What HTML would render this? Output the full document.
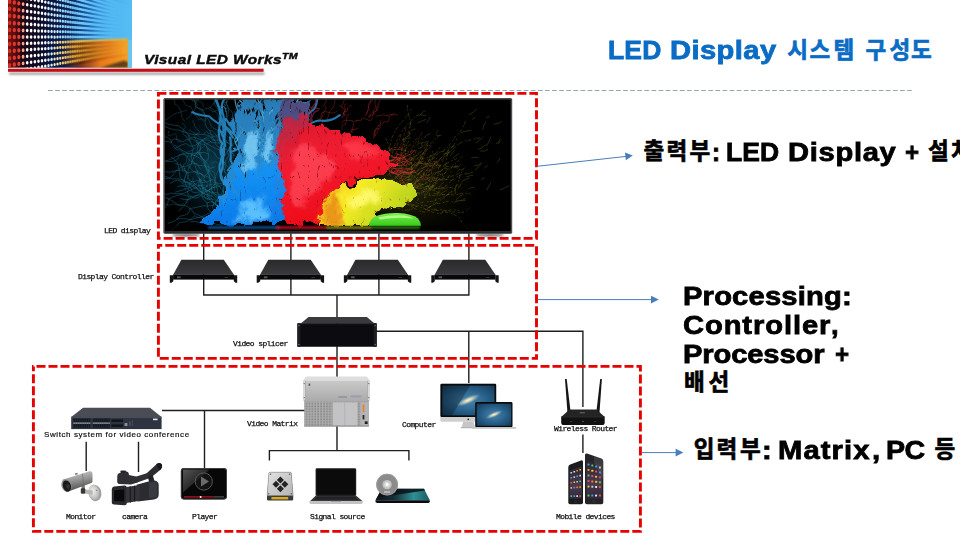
<!DOCTYPE html>
<html lang="ko"><head><meta charset="utf-8"><title>LED Display 시스템 구성도</title>
<style>
html,body{margin:0;padding:0;background:#fff}
#slide{position:absolute;left:0;top:0;width:960px;height:540px;overflow:hidden;background:#fff;font-family:"Liberation Sans",sans-serif}
#art{position:absolute;left:0;top:0}
.t{position:absolute;white-space:pre;line-height:1;transform-origin:0 0;margin:0;will-change:transform}
.big{font-weight:bold;font-size:26.5px;color:#000;-webkit-text-stroke:0.8px currentColor}
.hgt{font-family:"Liberation Sans","Noto Sans CJK KR",sans-serif;font-weight:bold;font-size:22.5px;stroke-width:0.7;stroke-linejoin:miter}
.hk{font-weight:bold;font-size:23px;opacity:0}
.lbl{font-family:"Liberation Mono",monospace;font-size:8px;letter-spacing:-0.6px;color:#111;-webkit-text-stroke:0.25px #111;will-change:transform}

</style></head><body>
<div id="slide">
<svg id="art" width="960" height="540" viewBox="0 0 960 540">
<defs>
<filter id="blur1" x="-5%" y="-200%" width="110%" height="500%"><feGaussianBlur stdDeviation="1.2"/></filter>
<linearGradient id="gCtrlTop" x1="0" y1="0" x2="0" y2="1"><stop offset="0" stop-color="#2a2a2c"/><stop offset="1" stop-color="#3a3a3d"/></linearGradient>
<linearGradient id="gSilver" x1="0" y1="0" x2="0" y2="1"><stop offset="0" stop-color="#cacaca"/><stop offset=".5" stop-color="#bababa"/><stop offset="1" stop-color="#acacac"/></linearGradient>
<pattern id="pGrid" x="305.5" y="402.6" width="2.9" height="2.6" patternUnits="userSpaceOnUse"><rect width="2.9" height="2.6" fill="#aeaeae"/><rect x=".3" y=".4" width="1.6" height="1.6" fill="#858585"/></pattern>
<g id="ctrl">
<path d="M181.4 259.8H223.8L234 274.8H173.1Z" fill="url(#gCtrlTop)"/>
<rect x="173.1" y="274.6" width="60.9" height="5" fill="#09090b"/>
<path d="M169.8 275.2H173.3V281.2L171.4 282.8H169.8ZM233.8 275.2H237.2V282.8H235.6L233.8 281.2Z" fill="#141416"/>
<rect x="177" y="276.4" width="3.6" height="1.8" fill="#5a5a5e"/>
<rect x="224.5" y="277" width="3.5" height=".8" fill="#3c3c40"/>
</g>
<linearGradient id="gCam" x1=".35" y1="0" x2=".62" y2="1"><stop offset="0" stop-color="#c9c9c9"/><stop offset=".4" stop-color="#9a9a9a"/><stop offset=".75" stop-color="#6a6a6a"/><stop offset="1" stop-color="#4e4e4e"/></linearGradient>
<radialGradient id="gBase" cx=".4" cy=".4" r=".7"><stop offset="0" stop-color="#f4f4f4"/><stop offset="1" stop-color="#a9a9a9"/></radialGradient>
<linearGradient id="gGloss" x1="0" y1="0" x2="1" y2="1"><stop offset="0" stop-color="#6a6a6a"/><stop offset=".55" stop-color="#2c2c2c"/><stop offset="1" stop-color="#1a1a1a"/></linearGradient>
<linearGradient id="gHdd" x1="0" y1="0" x2="1" y2="1"><stop offset="0" stop-color="#e2e2e2"/><stop offset="1" stop-color="#b4b4b4"/></linearGradient>
<linearGradient id="gTeal" x1="0" y1="0" x2="1" y2="0"><stop offset="0" stop-color="#0d1519"/><stop offset=".35" stop-color="#153038"/><stop offset=".7" stop-color="#2f9094"/><stop offset="1" stop-color="#1c5a60"/></linearGradient>
<radialGradient id="gScr" cx=".5" cy=".5" r=".75"><stop offset="0" stop-color="#4a86b0"/><stop offset=".55" stop-color="#235a82"/><stop offset="1" stop-color="#123350"/></radialGradient>
<radialGradient id="gGal" cx=".5" cy=".5" r=".5"><stop offset="0" stop-color="#fff8d8"/><stop offset=".35" stop-color="#e8dfae" stop-opacity=".85"/><stop offset="1" stop-color="#9cc0d8" stop-opacity="0"/></radialGradient>
<linearGradient id="gPh" x1="0" y1="0" x2="0" y2="1"><stop offset="0" stop-color="#2a2630"/><stop offset=".6" stop-color="#4b3a4e"/><stop offset="1" stop-color="#30283a"/></linearGradient>
<clipPath id="clipScr"><rect x="164.9" y="99.5" width="345.8" height="131.7"/></clipPath>
<filter id="blurM" x="-20%" y="-20%" width="140%" height="140%"><feGaussianBlur stdDeviation="2.2"/></filter>
<filter id="blurXS" x="-10%" y="-50%" width="120%" height="200%"><feGaussianBlur stdDeviation=".6"/></filter>
<filter id="blurS" x="-10%" y="-100%" width="120%" height="300%"><feGaussianBlur stdDeviation="1"/></filter>
<filter id="liquid" x="-5%" y="-5%" width="110%" height="110%" color-interpolation-filters="sRGB"><feTurbulence type="fractalNoise" baseFrequency=".075" numOctaves="3" seed="4" result="n"/><feDisplacementMap in="SourceGraphic" in2="n" scale="16" xChannelSelector="R" yChannelSelector="G" result="d"/><feTurbulence type="turbulence" baseFrequency=".11 .045" numOctaves="3" seed="3" result="t"/><feColorMatrix in="t" type="matrix" values="0 0 0 0 1 0 0 0 0 1 0 0 0 0 1 3.2 0 0 0 .22" result="tm"/><feComposite in="d" in2="tm" operator="in" result="m"/><feComponentTransfer in="m"><feFuncA type="linear" slope="4" intercept="-1.05"/></feComponentTransfer></filter>
<filter id="liquidU" x="-5%" y="-5%" width="110%" height="110%" color-interpolation-filters="sRGB"><feTurbulence type="fractalNoise" baseFrequency=".075" numOctaves="3" seed="4" result="n"/><feDisplacementMap in="SourceGraphic" in2="n" scale="16" xChannelSelector="R" yChannelSelector="G"/></filter>
<filter id="liquidS" x="-10%" y="-10%" width="120%" height="120%"><feTurbulence type="fractalNoise" baseFrequency=".12" numOctaves="2" seed="9" result="n"/><feDisplacementMap in="SourceGraphic" in2="n" scale="8" xChannelSelector="R" yChannelSelector="G"/><feGaussianBlur stdDeviation=".5"/></filter>
<radialGradient id="hzTeal"><stop offset="0" stop-color="#146a88" stop-opacity=".55"/><stop offset="1" stop-color="#0a3a50" stop-opacity="0"/></radialGradient>
<radialGradient id="hzOlive" cx=".3" cy=".65"><stop offset="0" stop-color="#5a5614" stop-opacity=".5"/><stop offset="1" stop-color="#2a2808" stop-opacity="0"/></radialGradient>
<linearGradient id="gBlue" x1="0" y1="0" x2="0" y2="1"><stop offset="0" stop-color="#2a7ab4" stop-opacity=".5"/><stop offset=".5" stop-color="#2888cc" stop-opacity=".6"/><stop offset="1" stop-color="#1e8ce0" stop-opacity=".85"/></linearGradient>
<linearGradient id="gBlueLow" x1="0" y1="0" x2="0" y2="1"><stop offset="0" stop-color="#2b94dc" stop-opacity=".7"/><stop offset=".35" stop-color="#1290f4" stop-opacity=".92"/><stop offset="1" stop-color="#0a7ae8"/></linearGradient>
<linearGradient id="gRed" x1="0" y1="0" x2=".25" y2="1"><stop offset="0" stop-color="#d8182e" stop-opacity=".62"/><stop offset=".45" stop-color="#f21c30" stop-opacity=".88"/><stop offset="1" stop-color="#ee0c1a"/></linearGradient>
<linearGradient id="gYellow" x1="0" y1="0" x2="1" y2=".4"><stop offset="0" stop-color="#f0b41c"/><stop offset=".4" stop-color="#f8ec24"/><stop offset="1" stop-color="#b4d21c"/></linearGradient>
<linearGradient id="gGreen" x1="0" y1="0" x2="0" y2="1"><stop offset="0" stop-color="#7af04a"/><stop offset="1" stop-color="#38c81c"/></linearGradient>
<clipPath id="clipLogo"><rect x="8" y="0" width="124" height="67.8"/></clipPath>
<filter id="blurL" x="-10%" y="-30%" width="120%" height="160%"><feGaussianBlur stdDeviation=".9"/></filter>
<linearGradient id="lgBase" gradientUnits="userSpaceOnUse" x1="8" y1="0" x2="132" y2="0"><stop offset="0" stop-color="#3a0a0e"/><stop offset=".12" stop-color="#1c0714"/><stop offset=".26" stop-color="#0b0b26"/><stop offset=".45" stop-color="#0a2258"/><stop offset=".6" stop-color="#1c66b6"/><stop offset=".72" stop-color="#3ca4ea"/><stop offset="1" stop-color="#56bdf4"/></linearGradient>
<linearGradient id="lgStreak" gradientUnits="userSpaceOnUse" x1="58" y1="0" x2="133" y2="0"><stop offset="0" stop-color="#7fd4fb" stop-opacity="0"/><stop offset=".3" stop-color="#74cdf8" stop-opacity=".9"/><stop offset=".6" stop-color="#5cc0f6" stop-opacity=".8"/><stop offset="1" stop-color="#58bdf4" stop-opacity=".3"/></linearGradient>
<linearGradient id="lgGap" gradientUnits="userSpaceOnUse" x1="40" y1="0" x2="112" y2="0"><stop offset="0" stop-color="#061238" stop-opacity="0"/><stop offset=".4" stop-color="#061c50" stop-opacity=".95"/><stop offset=".7" stop-color="#1a5cae" stop-opacity=".7"/><stop offset="1" stop-color="#3a98e0" stop-opacity="0"/></linearGradient>
<linearGradient id="lgOrange" gradientUnits="userSpaceOnUse" x1="60" y1="0" x2="128" y2="0"><stop offset="0" stop-color="#3a1206" stop-opacity="0"/><stop offset=".3" stop-color="#8a2c0c" stop-opacity=".9"/><stop offset=".6" stop-color="#e87a1a"/><stop offset="1" stop-color="#f6a024"/></linearGradient>
<linearGradient id="lgOrS" gradientUnits="userSpaceOnUse" x1="62" y1="0" x2="128" y2="0"><stop offset="0" stop-color="#f8d040" stop-opacity="0"/><stop offset=".25" stop-color="#f6c030" stop-opacity=".9"/><stop offset="1" stop-color="#f8b428"/></linearGradient>
<linearGradient id="lgOrD" gradientUnits="userSpaceOnUse" x1="62" y1="0" x2="128" y2="0"><stop offset="0" stop-color="#1a0804" stop-opacity=".2"/><stop offset=".3" stop-color="#3a0e06" stop-opacity=".95"/><stop offset=".7" stop-color="#c03c10" stop-opacity=".8"/><stop offset="1" stop-color="#e06818" stop-opacity=".3"/></linearGradient>
<linearGradient id="lgWarm" gradientUnits="userSpaceOnUse" x1="24" y1="70" x2="56" y2="46"><stop offset="0" stop-color="#f8c020" stop-opacity=".0"/><stop offset=".6" stop-color="#f8a020" stop-opacity=".15"/><stop offset="1" stop-color="#f88020" stop-opacity=".45"/></linearGradient>
<linearGradient id="lgRedGlow" gradientUnits="userSpaceOnUse" x1="8" y1="0" x2="22" y2="0"><stop offset="0" stop-color="#b01810" stop-opacity=".55"/><stop offset="1" stop-color="#b01810" stop-opacity="0"/></linearGradient>

</defs>
<!-- logo picture: LED dot wall in perspective -->
<g id="logopic" clip-path="url(#clipLogo)">
<rect x="8" y="0" width="124" height="67.8" fill="url(#lgBase)"/>
<path d="M58 -16.9L133 8.9M58 -11.5L133 11.7M58 -6.1L133 14.5M58 -0.7L133 17.3M58 4.7L133 20.1M58 10.1L133 22.9M58 15.5L133 25.7M58 20.8L133 28.6M58 26.2L133 31.4M58 31.6L133 34.2M58 37L133 37M58 42.4L133 39.8M58 47.8L133 42.6M58 53.2L133 45.4M58 58.5L133 48.3M58 63.9L133 51.1" stroke="url(#lgStreak)" stroke-width="2.9" fill="none"/>
<path d="M40 -20L112 3.4M40 -14L112 7M40 -8L112 10.5M40 -2L112 14M40 4L112 17.6M40 10L112 21.1M40 16L112 24.6M40 22L112 28.2M40 28L112 31.7M40 34L112 35.2M40 40L112 38.8M40 46L112 42.3M40 52L112 45.8M40 58L112 49.4M40 64L112 52.9M40 70L112 56.4" stroke="url(#lgGap)" stroke-width="2" fill="none"/>
<path d="M60 42.6L132 40.4V67.8H60Z" fill="url(#lgOrange)"/>
<path d="M62 42.2L128 40M62 47.5L128 43M62 52.7L128 46M62 58L128 48.9M62 63.2L128 51.9" stroke="url(#lgOrS)" stroke-width="2.8" fill="none" filter="url(#blurL)"/>
<path d="M62 44.9L128 41.5M62 50.1L128 44.5M62 55.4L128 47.4M62 60.6L128 50.4M62 65.9L128 53.4" stroke="url(#lgOrD)" stroke-width="1.8" fill="none" filter="url(#blurL)"/>
<path d="M100 67.8L124 60.5L128 62V67.8Z" fill="#3a2a14" opacity=".8" filter="url(#blurL)"/>
<rect x="127.8" y="40" width="4.4" height="28" fill="#6cc4ea"/>
<path d="M9.6 -24.8V54.5" transform="scale(1 1.35)" stroke="#f0463a" stroke-width="3.3" stroke-dasharray="0 5.22" stroke-linecap="round"/>
<path d="M14.3 -23.6V53.9" transform="scale(1 1.35)" stroke="#f0463a" stroke-width="3.3" stroke-dasharray="0 5.10" stroke-linecap="round"/>
<path d="M18.8 -22.4V53.3" transform="scale(1 1.35)" stroke="#f0463a" stroke-width="3.2" stroke-dasharray="0 4.98" stroke-linecap="round"/>
<path d="M23.1 -21.4V52.8" transform="scale(1 1.35)" stroke="#f7a58e" stroke-width="2.8" stroke-dasharray="0 4.88" stroke-linecap="round"/>
<path d="M27.2 -20.3V52.2" transform="scale(1 1.35)" stroke="#ffffff" stroke-width="2.7" stroke-dasharray="0 4.77" stroke-linecap="round"/>
<path d="M31.1 -19.3V51.7" transform="scale(1 1.35)" stroke="#ffffff" stroke-width="2.7" stroke-dasharray="0 4.67" stroke-linecap="round"/>
<path d="M34.9 -18.4V51.2" transform="scale(1 1.35)" stroke="#ffffff" stroke-width="2.6" stroke-dasharray="0 4.58" stroke-linecap="round"/>
<path d="M38.5 -17.4V50.7" transform="scale(1 1.35)" stroke="#ffffff" stroke-width="2.6" stroke-dasharray="0 4.48" stroke-linecap="round"/>
<path d="M42 -16.6V50.3" transform="scale(1 1.35)" stroke="#ffffff" stroke-width="2.5" stroke-dasharray="0 4.40" stroke-linecap="round"/>
<path d="M45.3 -15.7V49.8" transform="scale(1 1.35)" stroke="#ffffff" stroke-width="2.5" stroke-dasharray="0 4.31" stroke-linecap="round"/>
<path d="M48.5 -14.9V49.4" transform="scale(1 1.35)" stroke="#d4efff" stroke-width="2.4" stroke-dasharray="0 4.23" stroke-linecap="round"/>
<path d="M51.6 -14.1V49" transform="scale(1 1.35)" stroke="#d4efff" stroke-width="2.4" stroke-dasharray="0 4.15" stroke-linecap="round"/>
<path d="M54.6 -13.3V28.2" transform="scale(1 1.35)" stroke="#d4efff" stroke-width="2.3" stroke-dasharray="0 4.08" stroke-linecap="round"/>
<path d="M54.6 31.5V48.6" transform="scale(1 1.35)" stroke="#ffe9b0" stroke-width="2.3" stroke-dasharray="0 4.08" stroke-linecap="round"/>
<path d="M57.5 -12.6V28.2" transform="scale(1 1.35)" stroke="#d4efff" stroke-width="2.3" stroke-dasharray="0 4.00" stroke-linecap="round"/>
<path d="M57.5 31.4V48.2" transform="scale(1 1.35)" stroke="#ffe9b0" stroke-width="2.3" stroke-dasharray="0 4.00" stroke-linecap="round"/>
<path d="M60.2 -11.9V28.2" transform="scale(1 1.35)" stroke="#9fe0ff" stroke-width="2.2" stroke-dasharray="0 3.93" stroke-linecap="round"/>
<path d="M60.2 31.3V47.9" transform="scale(1 1.35)" stroke="#ffd070" stroke-width="2.2" stroke-dasharray="0 3.93" stroke-linecap="round"/>
<path d="M62.9 -11.2V28.2" transform="scale(1 1.35)" stroke="#9fe0ff" stroke-width="2.2" stroke-dasharray="0 3.86" stroke-linecap="round" opacity="0.97"/>
<path d="M62.9 31.3V47.5" transform="scale(1 1.35)" stroke="#ffd070" stroke-width="2.2" stroke-dasharray="0 3.86" stroke-linecap="round" opacity="0.97"/>
<path d="M65.5 -10.6V28.2" transform="scale(1 1.35)" stroke="#9fe0ff" stroke-width="2.2" stroke-dasharray="0 3.80" stroke-linecap="round" opacity="0.88"/>
<path d="M65.5 31.2V47.2" transform="scale(1 1.35)" stroke="#ffd070" stroke-width="2.2" stroke-dasharray="0 3.80" stroke-linecap="round" opacity="0.88"/>
<path d="M68 -9.9V28.2" transform="scale(1 1.35)" stroke="#9fe0ff" stroke-width="2.1" stroke-dasharray="0 3.73" stroke-linecap="round" opacity="0.80"/>
<path d="M68 31.1V46.8" transform="scale(1 1.35)" stroke="#fbb838" stroke-width="2.1" stroke-dasharray="0 3.73" stroke-linecap="round" opacity="0.80"/>
<path d="M70.4 -9.3V28.1" transform="scale(1 1.35)" stroke="#9fe0ff" stroke-width="2.1" stroke-dasharray="0 3.67" stroke-linecap="round" opacity="0.72"/>
<path d="M70.4 31.1V46.5" transform="scale(1 1.35)" stroke="#fbb838" stroke-width="2.1" stroke-dasharray="0 3.67" stroke-linecap="round" opacity="0.72"/>
<path d="M72.8 -8.7V28.1" transform="scale(1 1.35)" stroke="#7fd4fb" stroke-width="2.1" stroke-dasharray="0 3.61" stroke-linecap="round" opacity="0.64"/>
<path d="M72.8 31V46.2" transform="scale(1 1.35)" stroke="#fbb838" stroke-width="2.1" stroke-dasharray="0 3.61" stroke-linecap="round" opacity="0.64"/>
<path d="M75 -8.2V28.1" transform="scale(1 1.35)" stroke="#7fd4fb" stroke-width="2" stroke-dasharray="0 3.56" stroke-linecap="round" opacity="0.57"/>
<path d="M75 31V45.9" transform="scale(1 1.35)" stroke="#fbb838" stroke-width="2" stroke-dasharray="0 3.56" stroke-linecap="round" opacity="0.57"/>
<path d="M77.2 -7.6V28.1" transform="scale(1 1.35)" stroke="#7fd4fb" stroke-width="2" stroke-dasharray="0 3.50" stroke-linecap="round" opacity="0.49"/>
<path d="M77.2 30.9V45.6" transform="scale(1 1.35)" stroke="#fbb838" stroke-width="2" stroke-dasharray="0 3.50" stroke-linecap="round" opacity="0.49"/>
<path d="M79.4 -7.1V28.1" transform="scale(1 1.35)" stroke="#7fd4fb" stroke-width="2" stroke-dasharray="0 3.45" stroke-linecap="round" opacity="0.42"/>
<path d="M79.4 30.9V45.3" transform="scale(1 1.35)" stroke="#fbb838" stroke-width="2" stroke-dasharray="0 3.45" stroke-linecap="round" opacity="0.42"/>
<path d="M81.4 -6.5V28.1" transform="scale(1 1.35)" stroke="#7fd4fb" stroke-width="1.9" stroke-dasharray="0 3.39" stroke-linecap="round" opacity="0.35"/>
<path d="M81.4 30.8V45.1" transform="scale(1 1.35)" stroke="#fbb838" stroke-width="1.9" stroke-dasharray="0 3.39" stroke-linecap="round" opacity="0.35"/>
<path d="M83.4 -6V28.1" transform="scale(1 1.35)" stroke="#7fd4fb" stroke-width="1.9" stroke-dasharray="0 3.34" stroke-linecap="round" opacity="0.29"/>
<path d="M83.4 30.8V44.8" transform="scale(1 1.35)" stroke="#fbb838" stroke-width="1.9" stroke-dasharray="0 3.34" stroke-linecap="round" opacity="0.29"/>
<path d="M85.4 -5.5V28.1" transform="scale(1 1.35)" stroke="#7fd4fb" stroke-width="1.9" stroke-dasharray="0 3.29" stroke-linecap="round" opacity="0.22"/>
<path d="M85.4 30.7V44.5" transform="scale(1 1.35)" stroke="#fbb838" stroke-width="1.9" stroke-dasharray="0 3.29" stroke-linecap="round" opacity="0.22"/>
<path d="M87.2 -5.1V28.1" transform="scale(1 1.35)" stroke="#7fd4fb" stroke-width="1.9" stroke-dasharray="0 3.25" stroke-linecap="round" opacity="0.16"/>
<path d="M87.2 30.7V44.3" transform="scale(1 1.35)" stroke="#fbb838" stroke-width="1.9" stroke-dasharray="0 3.25" stroke-linecap="round" opacity="0.16"/>
<path d="M89.1 -4.6V28" transform="scale(1 1.35)" stroke="#7fd4fb" stroke-width="1.8" stroke-dasharray="0 3.20" stroke-linecap="round" opacity="0.10"/>
<path d="M89.1 30.6V44" transform="scale(1 1.35)" stroke="#fbb838" stroke-width="1.8" stroke-dasharray="0 3.20" stroke-linecap="round" opacity="0.10"/>
<path d="M90.8 -4.1V28" transform="scale(1 1.35)" stroke="#7fd4fb" stroke-width="1.8" stroke-dasharray="0 3.15" stroke-linecap="round" opacity="0.04"/>
<path d="M90.8 30.6V43.8" transform="scale(1 1.35)" stroke="#fbb838" stroke-width="1.8" stroke-dasharray="0 3.15" stroke-linecap="round" opacity="0.04"/>
<rect x="8" y="0" width="14" height="67.8" fill="url(#lgRedGlow)"/>
</g>
<!-- red rule with soft shadow -->
<rect x="9" y="72.4" width="255.5" height="2.4" fill="#000" opacity=".38" filter="url(#blur1)"/>
<rect x="8" y="68.7" width="255.6" height="3.1" fill="#c00f16"/>

<!-- thin dashed guide line under header -->
<line x1="48" y1="90.5" x2="913.5" y2="90.5" stroke="#98a6b2" stroke-width="1" stroke-dasharray="4.7 2.4"/>
<!-- connector lines -->
<g fill="none" stroke="#1e1e1e" stroke-width="1.4">
<path d="M203.7 233V295M290.9 233V295M378.9 233V295M468.9 233V295M203.1 295H469.5"/>
<path d="M337 295V378M376 331.2H583.6M468.8 331.2V383M582.9 331.2V407M582.9 434.5V453"/>
<path d="M162 410.5H305M204.5 410.5V469M86.2 441.7V471M138.5 441.7V472"/>
<path d="M337 426V450.6M269.4 460.5V450.6H408.9V460.5"/>
</g>
<!-- red dashed group boxes -->
<g fill="none" stroke="#e60000" stroke-width="2.9" stroke-dasharray="9 3">
<rect x="158.4" y="93.4" width="378.1" height="145" stroke-dashoffset="1"/>
<rect x="158.4" y="245.4" width="378.1" height="113" stroke-dashoffset="5.15"/>
<rect x="33.4" y="366.4" width="607" height="165" stroke-dashoffset="8.9"/>
</g>
<!-- blue callout arrows -->
<g stroke="#4a7ebb" stroke-width="1" fill="#4a7ebb">
<line x1="537" y1="166.3" x2="627" y2="156.3"/><path d="M632.8 155.6L625 152.4L625.8 160.2Z" stroke="none"/>
<line x1="538" y1="299.6" x2="652" y2="299.6"/><path d="M658.8 299.6L651 295.8V303.4Z" stroke="none"/>
<line x1="642" y1="452.6" x2="677" y2="452.6"/><path d="M683.4 452.6L675.6 448.8V456.4Z" stroke="none"/>
</g>

<!-- LED display: TV frame + paint splash artwork -->
<g id="leddisplay">
<ellipse cx="186" cy="235.2" rx="14" ry="1.6" fill="#000" opacity=".55" filter="url(#blurS)"/><ellipse cx="490" cy="235.2" rx="14" ry="1.6" fill="#000" opacity=".55" filter="url(#blurS)"/>
<rect x="163.4" y="98" width="348.8" height="135.8" rx="1.6" fill="#444446"/>
<rect x="164.9" y="99.5" width="345.8" height="131.7" fill="#000"/>
<g clip-path="url(#clipScr)">
<ellipse cx="212" cy="165" rx="50" ry="66" fill="url(#hzTeal)"/>
<ellipse cx="430" cy="175" rx="80" ry="52" fill="url(#hzOlive)"/>
<path d="M218.1 185.9Q213.3 181.8 206 186.6Q201.8 191.1 194 187.4Q185.5 179.7 182.6 183.5Q179.3 176.9 170.5 183.2M239.3 219.1Q227.3 214.8 228.9 209.8Q221.8 199.8 223.4 197Q223.3 189.2 224.2 183Q222.5 178.3 220.3 169.6M220 194.3Q222.2 197.9 210.5 192Q203.1 188.1 200.8 191.7Q190.1 194.2 191.4 189.3Q191.6 186.1 182.2 186.1M238.3 209.5Q235.8 212.3 234.2 201.6Q226.5 199.4 230.8 193.4Q224.8 184.2 225.3 186.4Q229.7 186.2 221.1 178.6M204.7 160.2Q198.4 158 201.1 154.2Q195.1 154.4 197.8 148.1Q199.3 139.2 196.8 141.1Q192.6 134.4 196.5 134.1M238.8 205.9Q234.7 202.6 233.6 189.4Q224.2 188.4 226.1 173.8Q221.3 169.1 223.2 156.7Q220.4 142.1 223.2 139.4M203.6 187.8Q200.5 187.8 198.7 174.9Q197.4 173.6 194 162Q188.9 160.8 193.5 148.2Q187.6 137.4 188.7 135.3M229.6 217.1Q224.6 209.6 216.7 204.3Q206.8 202.4 209.7 187.6Q211.3 175.2 207.1 169.7Q204.4 158.7 199 153.4M207 199.1Q210.8 196.3 204.7 190.3Q210.3 181.6 204.3 181.2Q202.9 176.3 208.1 172.9Q207 168.1 214.9 166.9M222.9 150.8Q217.1 150 207 143.8Q193.7 134.5 190.5 138.2Q190.2 134.7 178.4 125.7Q163.6 124.6 162.1 119.7M219.3 199.9Q218.1 194 215.5 181.5Q213.6 176.6 205.1 166Q203.7 157.9 190.7 154Q188.1 154.6 174.3 144.9M216.7 204.8Q208.4 206.5 203.3 205.8Q190.8 208.9 190.1 208.1Q190.1 215.4 179.5 216.3Q177.1 221 168.1 223.3M217.6 208.7Q220.8 200.9 221.2 193.5Q227.7 186.6 228.7 179.8Q237.5 169.1 234.6 165.3Q237.7 162.7 246.4 155.2M208.1 153.9Q206.3 151.2 193.6 153.3Q182.2 153.3 179.2 155.1Q178.4 163.4 166 161.1Q160.3 160.7 152.2 165.5M205.4 180.7Q203.4 178.5 188.7 182.6Q179.8 177.6 172.2 179Q163.6 176.8 157.4 171.1Q147.4 171.8 142.5 163M239.3 177.1Q231.1 177.2 235.7 171.5Q231 173 231.7 166.2Q226 162.3 230.5 159.7Q236.1 152.8 232.4 153.3M205.6 143.8Q202.2 146.3 194.4 140.2Q191.1 136.8 182.7 141.8Q172.3 135.6 170.9 143.1Q168 139.1 159.1 144.1M210.9 168.4Q208.3 165.5 198.4 165.6Q197.8 160.3 185.7 166.5Q183.2 164.3 174.5 172.5Q170.5 181 163 178.1M215.1 186.6Q207.1 192 200.2 193.1Q195.3 198.5 184.1 195Q179.3 193.1 168.4 199.2Q168.7 210.8 155.5 209M221.5 204.8Q212.1 194 207 194.8Q200.7 193.2 193.1 184Q179.6 182.8 179.3 173Q179.5 160.5 171.3 157.3M213.4 204.6Q215.2 205.5 210.7 197Q214.9 193.3 206.7 189.9Q197.6 183.7 200 185.3Q193.7 186.2 193.3 180.8M225.6 182.9Q217.5 185.9 212.8 179.3Q202.1 185.1 199.6 181Q194.4 185.6 188.6 188.2Q182.7 190.2 175.8 192M224.2 142.3Q222.1 143.3 211.5 142.6Q207.8 136.7 198.8 142.8Q191.3 149.6 186.1 143.5Q177.2 146 174.8 149.3M205.1 175.6Q193.9 169.9 187.8 172.9Q185 167.4 170.3 172.2Q155.1 169.9 153.3 176.3Q147.1 173.5 135.8 175.7M214.2 190.8Q215.2 179.7 215.9 175.5Q219.3 167.6 221.9 161.4Q224.5 155.1 229.6 148.1Q231.3 144.9 241.2 138M225.5 183.4Q215.1 188.7 212.2 187.2Q212 188.5 200.5 194.8Q200.1 193.6 187.7 200.2Q188.8 200.5 179 211M209.6 199.6Q205.7 201.2 204 194.6Q200.9 193.9 200.6 188Q196.4 186.8 200.5 180.5Q205.6 171.7 197.6 173.7M220.2 202.2Q209.9 190.6 211.7 190.1Q211.2 183 209.2 175.5Q202.6 163.8 205.8 161Q211 160.5 206.7 146.2M237.1 147.8Q239.4 136.4 234.3 129.9Q233.4 119.9 232.1 111.9Q223.3 105.8 228.2 94.2Q218.9 85.8 218.6 78.7M229.6 173.2Q221.1 174.9 226.2 165.7Q226.3 167.6 220.7 159.4Q216.2 158 214.5 153.9Q218.1 155.4 208.2 148.4M210.3 214.7Q201 220.7 194.4 215.7Q189.8 222.7 179.9 222.3Q172.4 230.5 167.5 232.5Q157.6 234.2 152.1 236.7M200.4 169.2Q201.2 167 189.6 160.3Q187.1 156 180.2 149.8Q173.9 151.6 170.6 139.5Q167.9 138.8 159.6 130.8M239.2 141.9Q231.9 130.6 227.4 131.9Q221.4 119.8 219 118.9Q222.2 112.2 214 104.2Q218 97.9 208.9 89.6M239.8 192.3Q239.8 185.8 232.6 192Q224.5 192.9 225.9 194.6Q222.2 196.4 218.7 195Q221.6 192.5 212 192.3M221.1 189Q218.2 182.7 213.7 182.5Q206.6 173.3 205.2 177.7Q195.2 169.5 198.1 170.9Q192.3 174 189.5 166.1M229.9 144.1Q226.9 140.8 212.5 139.5Q210.4 133.3 195.2 134.4Q192.5 135.2 177.7 129.8Q175.8 131.6 160.4 124.6M224.1 149.4Q213.5 145.8 215.3 141.4Q211.8 138.4 209.9 130.7Q204.2 126.4 205.1 119.8Q206.9 114.6 201 108.6M239.9 218.1Q241.7 219.3 232.5 212.6Q226.5 207.1 224.5 208Q221.1 207.7 215.8 204.9Q214.8 199.6 206.8 203M210 220.3Q195.9 213.7 194.2 213.4Q188.3 203.8 179 205.3Q165.2 195.8 163.4 197.8Q155.8 197.3 146.8 193.1M214.9 179.2Q216.4 169.2 208.3 171Q211.1 167.7 205.2 161Q198.3 155.4 199.5 152.1Q202.1 145.2 196.1 142.1M226.1 221.1Q227 215.9 216.2 212.6Q206.1 213 207.3 203Q199.4 197.6 203.1 190.5Q203.7 181.5 199.1 178.1M231 146.2Q228 142.1 230.6 131.7Q225.9 119.6 227.4 117.5Q229.9 108.4 226.2 103.1Q231.2 97.1 230.3 89.2M236.7 217.1Q228.5 216.4 225.6 220.8Q226 227.7 214.2 223.5Q206.4 221.5 202.5 223.3Q195.2 220.8 190.9 221.5M207.8 186.2Q202.3 182.8 195 188.4Q194.4 188 183.1 193.7Q176.8 194 170.1 193.1Q170.1 195.3 157.1 193.3M232.2 145.3Q221.9 141.9 223.3 131.9Q210.8 129.2 209.9 122.8Q208.6 118.4 200.4 109.8Q193.5 106.1 194.4 94.9M220.9 202.7Q218.4 200.7 211.1 198.9Q209.3 200.1 201.2 195.5Q194.7 200.4 190.8 196.2Q190.6 201.7 180.6 198.6M233.4 212.9Q229.2 218 219.2 214.7Q211 210.1 205 215.4Q205 215.7 191.3 219.5Q180.1 218.1 177.1 218.9M211.7 219.5Q214.7 218.4 213.6 209.6Q209.9 204.6 218.5 200.8Q226.3 189.7 222.6 191.5Q221.8 184.1 229.9 184.5M209.4 198.8Q203.2 191 203.1 192.3Q196.7 190.6 195.4 187.5Q190.8 183.1 186.7 185.3Q188 183.7 177.7 186.6M221.9 218.5Q226.2 218.6 218 210.3Q216.9 206.3 215 201.8Q221.4 199.6 214 192.9Q207.8 188 215.3 184" fill="none" stroke="#1f7f9c" stroke-width="0.6" opacity="0.7" stroke-linecap="round"/>
<path d="M195.4 184.3Q187.6 179.1 187.9 178.2Q189.5 174.5 182.1 170.5Q184.6 164.2 175.3 163.6M205.7 118.4Q207.8 122.4 201.7 118.8Q197 120.8 197.9 117.6Q196.1 115.9 194.8 115M232.2 162.8Q227.9 168.8 225.6 164.7Q226.2 160.9 218.8 164Q215.7 159.6 212 163.4M224.4 134.8Q223.9 135 224.2 130.1Q226.7 123 224.6 125.4Q224.6 128.7 225.5 120.7M224.3 169.7Q222.2 166.9 226.4 162.5Q221.8 164.8 228.8 155.4Q225.5 153 229.1 147.9M190.3 141.4Q187 140.6 186.3 135.9Q181.3 135.5 183.6 129.6Q188.2 127.1 182.1 123M217.6 136.8Q210.5 138 213.2 134.8Q207 133.1 208.4 133.8Q207.1 129.1 203.6 134.3M186.3 119Q193.6 115 190.9 112.8Q195 112.8 195.5 106.4Q195.3 100.7 197.9 99M198 104.6Q197.2 103.3 189.5 98.2Q179.2 93.5 180.5 92.9Q178.3 84.8 172.4 86.1M195.8 155Q185.8 157.8 184.1 154.3Q179.2 154.4 173.1 158.1Q163.2 162.6 162 162M234.2 155.6Q234.8 153.6 224.7 148.6Q216.2 140.7 217.7 139.1Q216.3 132.5 210.1 130.1M230.5 139.8Q223.9 143.5 226 137.4Q224.4 137 221.4 135.1Q224.3 139.4 217.4 131.8M223.5 164.4Q230.7 155.9 228.4 153.7Q234.4 144.5 232.5 142.8Q229.2 131.6 236.1 131.6M183.3 203.7Q180.3 206.6 173.2 203.8Q169.3 206.9 163.1 202.8Q155.2 199.6 154.6 197.2M181 142.4Q176 141.5 176.6 138.9Q176.5 131.2 172.9 134.6Q166.5 138.4 168.6 131.1M209.8 150.9Q209.9 150.1 203.7 143.2Q206.7 143.4 197.8 135.4Q192.5 132 189.5 130.1M207.7 195.3Q209.7 189.8 202 188.5Q203.5 189 199.7 179.9Q198.8 179 195.5 172M191.2 163.5Q192.2 159.9 193.2 158.8Q197.5 157.4 197.1 155.4Q197.1 152.9 201.7 153M186.9 110Q185 110.9 174.4 113.8Q165.7 120.4 163.6 121Q163.3 120.2 153.3 129M221.9 115.6Q216.9 107.1 218.1 103.3Q212 101.7 216.4 90.6Q212.4 83 210.9 78.9M208.9 107.7Q212.5 107.9 216.2 97.7Q217 88.1 218.3 85.5Q225.6 84.5 222.8 73.9M184.3 188.5Q188.8 190.2 184.1 180.1Q186.9 172.3 186.4 172Q180.6 163 185.5 163.6M217.7 134.9Q207.6 139.1 206.2 138.7Q201.1 137.7 197.3 146.8Q189.6 152.1 186.5 152.3M184.4 121.5Q181.2 118.6 181 111.8Q178.8 104.7 174.4 104.1Q177 101.7 169.3 95.2M189.4 168.3Q192.1 162.5 194.1 156Q200.1 148.8 203.6 146.8Q213 138.6 215 140.3M190 180.1Q185.8 181.6 189.1 173.5Q181.7 170.3 185.4 168.1Q181.6 171 180.5 163.7M203.5 121.3Q202.2 120.9 197.1 113.7Q193.8 114 190.5 106.1Q186.8 108.4 182.7 99.8M183 182.5Q184 181.3 186.5 173.5Q190.5 165.6 187.5 163.9Q184.7 160.1 188.5 154.3M203.4 106.6Q203.4 99.9 194.4 100.9Q185.3 96.6 187.8 92.5Q184.1 85.3 181.8 83.7M222.3 110.4Q221.2 108 213.1 111.9Q206.3 105.6 204 110.3Q201.1 108.9 195.3 107M188.7 163Q189.2 154.2 195.5 153.6Q202 151.8 200.5 143.1Q203.9 137.7 209.4 135.6M185.6 202Q192.2 193.5 187 193.5Q190.9 183.8 188.8 185.2Q195.4 177 192.6 177.5M196.8 133.4Q202.6 134.2 196.5 128.7Q192.6 123.5 195.1 124.2Q191.3 121.5 193.6 119.7M230.7 140.1Q222.6 132.9 225.5 128.1Q216.8 120.6 218.6 116.9Q218.5 113.1 209.7 107.2" fill="none" stroke="#2a93b4" stroke-width="0.5" opacity="0.55" stroke-linecap="round"/>
<path d="M291.5 116.7Q295.6 110.2 294.1 109.4Q292.7 106.5 297.7 102.6Q297.5 97.1 303.3 97.3M260.1 111.5Q263.4 104.2 259.5 102.9Q255.5 100.5 260 94.3Q258.5 85.2 261.5 85.8M238.7 109.9Q236.4 104.4 238.8 101.7Q244.6 96.5 241.6 94Q244.2 94 242.4 85.8M226.5 112Q224.6 113.1 226.1 108.8Q221.4 106.2 225.6 105.7Q221.2 100.6 226 102.5M269.7 102.1Q266.9 101.7 271.4 97.2Q275.1 96.7 274.3 92.8Q273.5 89.1 278.5 89.7M278.5 114.8Q278.3 109.8 282.3 107.9Q280.4 100.4 287.8 102.3Q290.9 102.3 292.6 96.1M298.2 111.1Q299.7 108.7 297.5 103Q299.2 96.8 293.4 95.9Q286.8 91.9 288.4 89.4M254.4 103Q252.8 97.4 255.6 98.5Q256.1 93 257.1 94.2Q254.9 87.8 258 89.6M250.6 115.4Q252.7 114.7 253.8 110.1Q255.3 107 259 106.7Q261.1 101.8 265.1 105.9M262.2 120.9Q258.1 117.2 263.6 116.5Q264 111.8 263.2 111.9Q259.5 109.4 262.1 107.4M271.1 133.5Q273.4 131.7 270.3 127.4Q268.6 123.6 268.7 121.5Q271.8 122.2 268.4 115.4M253.6 131.9Q253.2 129.5 256.5 129.9Q253.8 125.3 258.1 126.9Q261.1 122.9 260.5 124.3M225.1 119.5Q227 118 226 115.5Q226.8 116.8 226.4 111.4Q224.1 108 225 107.6M291.5 111.7Q294.1 112.1 287.4 106.1Q287.6 102.8 285.4 99.6Q282.9 94.3 283 93.2M281.2 119.2Q279.3 117.7 283.9 116Q281.4 110.8 287.6 114.1Q291.7 110 291.8 113.7M258.9 127.3Q262 121.1 257.7 123.8Q257.7 124.9 257.5 120.2Q259.7 115.9 257.6 116.5M278.7 112.1Q282 109.2 278.8 104.9Q281.2 102.5 279.4 97.7Q281.6 90.4 277.8 90.7M253.3 123.8Q255.8 127.2 256.5 121.8Q253.9 122.1 258.6 118.7Q261.1 116.2 260.9 115.7M295 134.6Q293.8 131.6 301.7 132.9Q309.7 127.5 307.9 129.7Q306.5 129 314.5 127.5M261.2 113.7Q259.3 108.9 261.7 106.2Q264.2 107.3 261.4 98.8Q263.6 95.5 261.9 91.3M285 106Q282.9 104.3 285.9 102.8Q285.1 96.6 287.8 100.1Q285.1 100 289.6 97.3M245.6 108.7Q241.7 102 246.9 104.1Q244.7 97.4 246.3 99.2Q246.6 101.8 247.3 94.5M240.2 130.5Q238.4 123.6 238.8 125.5Q239.6 124.3 237.2 120.6Q241.3 121.7 236.7 115.5M299.6 116.1Q293.5 109.5 297 109.6Q292.7 104.6 296.9 102.5Q294.1 99.3 295.1 95.8M225.8 108.1Q227.7 110.3 223.5 106.6Q221.2 109.2 220.9 105.7Q222.2 110.5 218.2 105.6M232.6 133.3Q238.2 125.4 235.6 127.1Q234.1 122.8 238.1 120.7Q241.3 120.8 241.4 114.6M252.4 122.7Q250.4 116.5 252 118.4Q254.5 113.3 252.3 114Q252.4 113.7 251.5 109.8M238.3 104.6Q235.1 103 241.8 101.3Q241.9 100.2 245.5 98.4Q243.7 100.1 247.7 94.1M249.1 126.6Q257 121.1 255.7 121.2Q261.4 115.6 262.9 116.4Q268.6 119.3 270.9 113.3M249.2 107.2Q253.1 102.6 254.3 100.4Q253.5 97.7 258.5 92.8Q262.6 89.8 259.5 84.3" fill="none" stroke="#48a8c8" stroke-width="0.6" opacity="0.7" stroke-linecap="round"/>
<path d="M407.7 189.5Q415.9 188 424.8 183.8Q432.7 179.4 442.4 179.4Q451.4 176.4 459.4 173.2M386.4 192.6Q395.6 185.6 397.8 184.2Q407.6 182 409.4 176.1Q417.8 177.1 422.3 170.3M403.1 205.1Q411.1 206.3 423.4 202.1Q436.7 201.8 443 196.2Q451.7 194.5 460.1 184.9M387.9 205.2Q389.2 201.5 391.3 197.3Q389.1 191.2 391.7 188.6Q387.9 184.7 390.8 179.9M420.4 185.5Q429.6 180.7 434.4 175.1Q441.2 164.7 443.3 160Q445.4 149.4 454 146.2M400.6 205Q402.2 205.6 405.5 200.7Q411 194.9 410 195.9Q408.5 193.8 411.7 189.6M424.4 197.8Q428.1 195.2 439.6 195.2Q448.3 193.5 454.9 195.3Q464.1 192 470.2 193.9M390.8 196.1Q397.6 196.3 397.4 194.8Q398.3 198.5 404.1 194.4Q409.2 192.5 410.6 192.8M399 181.2Q408.9 179.7 413.6 179.7Q421.1 182.7 428.4 178.8Q437.4 177.3 443.1 180M411.1 174.8Q413.2 169.9 412.5 165.7Q410.4 163.2 410.1 156.8Q408 148.9 406.8 148.1M403.9 174.6Q414.8 172.7 422.7 168Q431.9 164.2 442.5 166.3Q449.4 161.1 460.3 157.2M400.4 202.7Q400.5 199.6 407 190.2Q411.4 184.7 417.9 181.3Q423.7 174.5 426.7 170.2M425.4 209.4Q431.7 209.1 440.2 209.4Q448.8 211.6 454.8 212.1Q465.7 214 469 208M402.8 203.1Q401.6 195.2 407.3 187.9Q411.6 178.3 413.3 173.2Q410.3 164.2 411.9 157.3M391.4 180.5Q395.1 179.9 396.5 177.2Q396.5 177.5 400.6 172.9Q404.3 167.2 403.6 167.7M406.1 160.8Q403.6 149.8 408.7 141.2Q410 128.3 410.7 121.5Q407.3 111.9 407 102.1M390.6 189.5Q392 191.2 396.6 188.5Q398.9 185.2 402.7 189Q405.1 190.5 408.4 191.1M405.7 204.2Q418.4 206.3 423.5 208Q433.2 213.7 441 213.5Q449.3 208.2 459 210.7M391.9 202.6Q399 194.5 405.5 194Q411.8 196.3 421.3 191.1Q431.7 185 436.6 186.1M403.7 164.1Q404.8 161.8 408.5 159.8Q413.7 160.9 412.7 154.8Q414.6 155.4 416.4 149.6M402.8 175.6Q405.3 172.3 409 169.4Q412 166.4 416.1 164.2Q423.1 159.8 424.8 162.5M408.8 188.5Q411.8 186.6 416.9 187.7Q418.9 189.3 425.1 187Q425.3 186 433.4 186.4M428.5 160.4Q437.6 153.7 445.1 149.2Q455.2 146 463.6 141.4Q473.3 139.3 483.1 137M418.9 162.8Q425.6 162.6 427.6 163.7Q431 161 436 161.7Q436.7 163.8 444 158.1M422.4 177.1Q430.5 168 436.4 166Q438.1 159.9 447 151.8Q455.4 145.6 457 137.1M386 208.6Q394.2 205 398.6 202.7Q408.2 202 410.1 194.7Q419.1 192.8 423.7 192M418.8 179.6Q423.1 180.5 430.3 177.6Q432.9 181.7 441.6 180.5Q447.8 177.9 453.2 181.4M390.3 176.1Q388 168.6 390.2 162.5Q392.7 152.7 389.6 148.9Q386.7 138.9 384.2 136.4M404.4 179.6Q412.6 171.6 417.8 165.4Q419.1 158.7 426.8 148.1Q434.5 139 440.9 134.6M400.6 168.5Q406.1 166.1 413.3 162.4Q417.2 158.1 423.4 152.5Q432.3 146.2 433.6 142.7M416.4 172.1Q422 165.5 431.5 165.9Q436.7 162.3 443.9 155.2Q451.4 150.8 457 145.4M428.9 207.3Q436.9 202.3 440.8 203.7Q449.8 199.3 453.2 202.4Q459.7 201 465.1 198.7M400 167.9Q397.7 161.8 401.8 151.1Q402.6 143.5 408.2 135.4Q407.5 129.4 412.8 119.2M411.2 206.8Q419.1 201.9 419.7 193.6Q428.1 189.8 430.8 182.4Q435.4 174.4 444.1 174.1M409.2 173.2Q413.4 171.4 417.9 173.2Q420.4 174.2 426.4 175Q428 177.3 435 173.7M423.5 191.7Q431 189.8 436 181.1Q438.8 170.8 445.3 167.6Q445.7 161.9 448.2 151.5M395.5 183.5Q400.7 177.7 405.8 170.9Q409.7 169 417.9 159.9Q429.1 158.3 433.2 154.2M388.2 206.9Q398.8 207 401.5 210.2Q404.8 210.8 415.1 208.6Q417.9 211.3 428.2 212.8M429.2 195.6Q430 188.3 437.6 180.6Q444 173.5 450.1 168.7Q453.9 164.5 462.6 156.9M403.8 185.3Q413.7 184.8 416.1 183.4Q420.6 183.3 428.3 185.9Q438 189.8 440.7 186M427.7 208.1Q435.9 203.5 444.2 197.4Q452.2 191.5 458.4 183.8Q458.8 174.9 465.8 165.6M428.2 161.7Q432.1 152.8 443.7 151.4Q450.9 144.3 455.1 136.8Q462.3 131.5 465.4 121.4M385 163.5Q387 152.5 390.5 144Q390.8 136.9 398.9 125.5Q405.8 117.7 411.3 109.5M400.1 195.1Q400 188.9 405.1 188.4Q408.2 187.9 411.6 183Q413.2 182.1 418.9 178.8M396.7 187.2Q403.9 185.6 415.4 187.1Q426.4 190 433.9 190.2Q443.5 185.7 452.4 187.9M419.4 172.7Q422.5 167.7 427.7 165.1Q433.9 159 432.3 154.8Q438.6 153 440.3 146.7M400.2 201.1Q406.1 198.5 408.1 196.2Q407.2 192.7 414.1 189.2Q414 189.3 420.9 182.9M391.5 170.7Q391 164.1 393 150.7Q398.8 145.2 401.3 132.5Q405 126.4 414.6 117.5M424.7 197.8Q424.7 190.8 430.8 187.5Q428 179.1 432.1 175.7Q430 168.3 435.1 164.1M393.2 166.4Q400.4 162.3 403.3 157.7Q402.7 149.4 408.8 145.6Q412.2 143.2 418.7 136.7M426.6 186.2Q429.7 187.2 436.2 183.6Q439.6 181.1 443.7 177Q445.8 170.2 448.5 168.3M427.5 210.9Q432.3 208.7 444.3 212Q454 212.9 459.9 218.4Q463.2 227.1 471 231.1M407.5 193.9Q409.7 189.9 415 193.2Q419.7 192.7 422.5 194.3Q427.3 193.5 430 195.5M401 206Q404.9 200.8 409.3 198.2Q409.5 196.5 413.9 187.9Q417.4 179.5 414.8 176.6M407.9 211.2Q408.9 209.9 414.1 207.2Q421.3 204.6 421.3 205.5Q426.5 204.8 428.6 206.6M410.2 185.9Q409.6 180.4 417 174.9Q422.2 171.5 426.2 165.8Q427.6 161.5 435.6 157.1M406.7 193.3Q405.3 191.6 410.6 185.1Q416.2 184 416.5 178.1Q423.4 175.4 423.9 172.7M404.2 188.9Q405.1 185.9 409.4 177.5Q410.8 169.4 414.6 166.1Q421.4 163.8 422.8 156.6M429 207.7Q435.9 202.6 437.8 192.6Q446.8 185.3 450.8 181Q461.9 173.2 466.3 173M408 177.8Q412.9 171.9 410.9 163.7Q416.5 154.7 419.4 152Q423.5 143.4 421.6 137.8M393.4 196.1Q395.5 189.1 403.6 178.4Q414.9 174.7 420.3 166.6Q429.7 159.2 433.1 150.7M427.5 193.2Q428.5 188.1 437.2 188.5Q439 186 445.1 181.1Q449.5 176.6 450.8 171.9M399.2 174.2Q409.6 169.8 413 168.2Q421.4 161 423.2 157.1Q426.3 153.6 427.6 142.8M419.8 177.3Q422.3 178.1 432.2 173.1Q438 172.8 444.3 168.5Q448.4 168.3 457.3 166.9M395.9 177Q398.8 180.8 401.4 177.3Q403.4 176.4 406.8 176.9Q409.3 181.1 412.3 177.9M390.5 182.5Q396.9 179.5 401.1 169.4Q401.5 161.6 405.8 153.2Q404.4 142.5 402.5 136.7M419.5 163Q428 165 433 163.5Q441.7 166.1 446.1 166.4Q452.5 165.9 459.6 166.6M389.8 184.7Q393.4 176.5 403.8 172.1Q409 161.6 415.2 157Q422.1 151.9 427.7 142.8M403.1 193.8Q411.5 188.1 416.6 188.3Q423.6 184.7 431.1 188.9Q436.7 191.9 444.1 195.4M389.8 209.6Q391 207.8 395.1 198.3Q398.1 191.8 404.2 189.8Q407 183.5 409.7 178.6" fill="none" stroke-dasharray="2.5 3.5 1 2" stroke="#8f8a26" stroke-width="0.55" opacity="0.6" stroke-linecap="round"/>
<path d="M439.9 194.5Q443.3 191.8 447.1 190M443.7 154.1Q446.6 153.8 450.7 151.7M445.5 156Q448.7 155.1 449.4 151.2M478.6 149.3Q482.6 148.4 485.4 144.8M465.6 174.2Q470 173.3 472.9 172.1M498 143.8Q499.9 142 500.3 141.7M461.4 132.5Q467.5 130.2 471.1 130.5M458.3 188.4Q460.4 186.7 461.1 183.4M474.7 165.8Q478.4 165.7 481.9 162.7M413.6 184.6Q415.6 181.7 418.9 178.4M452.8 158.1Q456.3 155.2 458.7 153.6M480.6 151.1Q484.2 151.8 487.7 149.6M456.9 200.7Q460.5 201.1 465.2 200.3M469 189Q471.4 186.8 473.6 187.4M437.5 173.1Q440.9 170.9 441.7 170.2M417.8 122.9Q421 121.2 425.6 119.5M469.5 114.6Q473.7 112.4 476.6 109.1M433.7 193.7Q436.7 194.2 440 192.8M457 168.7Q458.9 165.9 460 165.2M496.4 143.7Q499.6 142 500.3 139.1M417.1 145Q419.1 142.1 418.8 140.8M436.4 133.3Q436 132.9 438.1 130.4M454.3 166.2Q457.4 166.5 457.6 166.1M486.2 117.8Q486.7 116.6 489.1 116.6M466.7 176.7Q469.9 175.6 472.8 175.3M436 135.1Q437.8 135.6 440.8 135.5M426.9 122.5Q428 121.1 430.3 117.3M475.4 169.9Q477.9 166.8 481 164.4M450.4 155.6Q453.6 152.1 454.5 150.2M402.2 140Q405.7 138.1 410.6 138M486.9 189.8Q488.7 186.1 490.8 183M455.3 193.9Q454.6 188.4 456.4 184.5M497.1 162.5Q498.6 161.9 500 158.3M407.6 204.4Q410 203.2 411.6 204.4M456.2 199.4Q459.8 195.9 463 194.4M446.4 195.7Q448.2 193.7 449.7 192.7M457.8 170.7Q459.1 168.9 462.2 169.6M476.2 143Q479.2 140.1 481.5 138.6M481.4 179.3Q483.9 177.6 484.5 177.9M420.2 114.8Q422 112 425 110.7M482.8 129.2Q482.8 126 485.6 122.4M438.3 188.6Q442.3 189.8 446.3 188.2M424 137.9Q426.2 134.9 430.3 133.4M429 190.5Q432.1 186.1 434.4 182.3M471.7 157.9Q475.1 156.4 478.2 157.7M402.8 203.4Q405.7 204.3 408.1 202.7M418 158.5Q420.5 155 424.6 153.3M472.5 119.3Q473.6 119.3 475 117.2M462 181.4Q466.6 178.6 469.2 177.9M416.2 115.5Q419.6 114.1 425.4 115.5M484.6 167.9Q485.3 166 487.2 165.9M411.2 130.7Q413.2 129.4 415 128.9M415 164.8Q415.9 163.6 419.7 161.6M419.3 143.2Q423.5 142.5 428.4 141.6M494 124.3Q498.3 124.1 501.4 121.5M404.1 138.5Q407.9 137.2 410.5 133.3M418.6 148.6Q423.5 146.9 425.5 143.9M486.6 145.7Q489 142.5 490.9 137M499.9 190Q504 188.2 508.8 186M413.2 184.6Q416.3 185.2 420.5 185.1" fill="none" stroke="#77701c" stroke-width="0.6" opacity="0.6" stroke-linecap="round"/>
<path d="M327.4 120.1Q327.5 117.5 329.6 111.8Q334.7 105.8 334.2 104.5Q335 96.8 338.3 97M315.1 104.1Q316.8 98.5 316.3 99.9Q314.3 97.6 316.6 95.6Q319.1 97 316 91.3M342.4 115.4Q343 114.9 344.3 111.3Q348.1 113.4 347.4 108.1Q350.3 104.2 351.4 105.8M317.3 118.9Q321.4 120.4 322.8 114.5Q323 109.9 329.6 112.8Q335.7 113.5 336.5 111.4M350.6 134.8Q347.7 131.2 352.4 132Q351.1 127.6 355.3 130.3Q353.7 130.2 358.1 128.4M368.6 116.4Q374.1 114.6 373.5 111.9Q378.7 110.9 378.1 107Q377.3 106 380 100.6M356.1 120.9Q359.7 120.6 361.6 120.1Q360.8 116.8 367.1 119.3Q371.2 122.6 372.4 118M366.5 114.4Q366.5 115.1 368.1 109Q368.2 106.1 369.9 103.5Q375.1 97.3 372.3 98.4M341 106.9Q341.4 106.2 343 103.9Q343.2 100.6 344.3 100.6Q348.3 96.7 346 97.5M315.7 135.9Q320.2 136.8 318.5 133.7Q321.5 131 321.8 132.9Q324.4 129 325.2 132.3M375.8 116.1Q375.7 116.7 383.1 114.8Q389.9 116.7 390.3 113.8Q390.3 115.2 397.6 114.9M345.6 114.8Q341.8 116.3 344.8 111Q344.6 108 342.5 107.9Q344.2 108.9 339.5 105.3M317.6 122.1Q322.2 117.7 320.9 117.2Q321 112 324 112.1Q326.9 107.9 325.7 106.4M342.3 129.1Q340.6 124.1 345.3 124.5Q346 123 346.7 119.2Q346.7 114.1 348.8 114.2M378.3 125.8Q382 125.9 383.9 121.8Q389.5 123.2 389.1 117.2Q393 114.1 394.6 113.1M341.7 117.2Q345.5 117.4 343.8 112.9Q347.3 109.7 345.2 108.3Q343.6 104.5 345.9 103.6M321.5 132.7Q318.6 127.6 321.8 128.3Q324.7 122.7 321.4 123.8Q323.9 119.4 322.1 119.4M372 116.7Q372.8 113.5 374.7 113.9Q372 113.4 376.7 110.6Q375.8 106.2 377.7 106.8M322.8 106.8Q324.2 105 326.3 101.6Q324.7 98.7 330.6 97Q336.9 94 335.6 93.2M375 135.2Q371.9 134 375.4 131.9Q373 129.6 377 128.9Q382.3 128.4 379.6 126.6M373.3 138.4Q376.2 136.6 374.5 132Q376.4 128.5 377.8 126.3Q381.1 125 381 120.6M352 132.4Q349.1 128.2 353.3 129.5Q351.8 127.4 353.2 126.2Q353.8 122.9 353.2 123M365.6 115.9Q367.9 109.5 369.4 109.5Q366.5 103.9 370.5 102.1Q370.9 99.7 369.7 94.6M341.8 122.7Q345.8 118.5 346.9 120.6Q347.2 120.8 352.3 120.4Q351 124 357.7 119.8M369.3 117.7Q368.7 116.4 373.2 111.1Q377.5 105.1 374.9 103.7Q374.3 98.4 379.1 97.4M373.5 136.8Q372.5 136.6 375.7 134.1Q378.7 132.1 377.3 131.1Q378 128.6 379.1 128.2" fill="none" stroke="#b43028" stroke-width="0.6" opacity="0.65" stroke-linecap="round"/>
<path d="M403.2 174Q404 168.9 409.1 169.2Q411.4 164.3 415.4 165M388.2 164.9Q393.3 161.8 400.5 160.2Q404.9 159.6 413.5 157.9M418.6 163.4Q422.6 162.6 423.5 165Q427.8 162.7 428.6 165.5M392.6 161Q397.6 157.4 403.3 155.5Q410.5 151.4 414.2 150.2M417.4 182.2Q419.7 179.2 425.9 170.3Q433.4 163.6 437.3 161.4M397.1 165.5Q404.7 165.2 407.5 160.6Q410 156.8 417.8 155.5M396.7 164.7Q396.4 158.4 401.2 155.1Q401.3 148.3 403.3 144.8M387.5 151.8Q392.7 149.2 397.2 149.2Q403.1 149.2 407 151.3M404.7 163.2Q405.7 160.8 409.2 163.1Q411.2 161.1 413.4 164.9M420.2 162.6Q422.6 164.7 429.9 163.4Q434.8 162.5 439.7 163.6M415 167.6Q419.5 162.8 421.3 156Q424.9 150.8 428 144.6M406 178.7Q408 177.3 408.5 174.8Q406.2 172.4 409.3 170.3M400 183.2Q406.5 184.2 410 185.3Q413.9 187.4 420.2 185M385.3 157.9Q388.1 149.9 393.7 147.1Q398.1 138.3 399.7 134.8M422.4 168.5Q424.6 171.4 431.6 169.7Q433.8 168 440.5 167M395.9 173.5Q399.6 173.1 403.6 173.5Q410.1 175.7 411.2 172.7M421.3 179Q425.5 179.1 427.9 177.9Q434.2 176.8 434.6 177.9M385.8 153.2Q388.3 148.6 396.2 147.2Q403.8 148.1 407.9 144.1M395.5 153.6Q399 148.7 402.8 140.8Q404.7 132.3 406.5 126.6M406 173.2Q414.3 171.8 417 173.9Q425 178.4 427.5 177.4M422 179.4Q424 176.1 431 170Q435.8 161.4 436.6 158.2M387.5 175.6Q391.4 171.2 396 164.7Q400.5 157.8 402.7 152.6M410.6 152.4Q413.2 145.3 416.2 141.8Q420.3 137 422.3 131.5M389.3 150.1Q391 149.4 396 149.6Q401.7 149.8 402.5 147.8" fill="none" stroke-dasharray="3 2" stroke="#b84830" stroke-width="0.55" opacity="0.6" stroke-linecap="round"/>
<path d="M223.4 182.7Q219.6 172.7 219.4 166.6Q222.8 153 222.3 150.2Q227.2 143.9 222.2 133.5Q225.1 130.8 220.5 117M277.3 189.5Q278.7 190 276.8 181.8Q274.5 172.1 275.5 174.2Q275.1 176.7 271.8 167.5Q273.9 167.5 267.6 161.1M289.4 160.4Q287.2 152.4 289.3 148Q285.1 139.8 283.4 137Q274.7 129.8 275.6 127.2Q267.8 123.2 268.9 116.8M250.8 179.1Q255.8 167.1 260.1 161.8Q265.8 160.9 276.3 150.6Q285.3 147 294.5 142.9Q304.7 136 314 139.6M245.8 150.7Q242.2 147.9 236.3 136.3Q224.8 126 223.9 124.6Q220.5 126.3 208.9 116.2Q196.5 115 192.3 112.1M264.5 168.3Q265.8 165.1 272.7 150.5Q272.7 144.2 283 133.8Q286.5 124.5 296.8 119.9Q300.8 114.2 309.1 104.6M283.6 189.5Q285.2 175.3 279.2 171Q271.1 157.1 273.3 152.9Q262.3 148.6 260.3 139Q247.6 135.8 246.9 125.5M226.1 183.8Q218.2 179.7 221.6 170.8Q222.7 169.1 223.2 157.2Q218.1 153 222.3 143.5Q218.5 140.2 218.8 130.3M261.4 157.7Q267 150.6 263.3 147Q261.2 137.8 262.3 136.1Q270 134 266.6 126Q267.2 115.3 265.8 115.1M233.1 137.7Q226.5 128.1 224.7 124.9Q218.1 112 220 110.4Q216.8 101.5 215.5 95.8Q208.1 94.1 205.1 84.6M258.2 140.7Q254.4 135.7 261.3 125.9Q267 123.1 268.2 112.4Q267 100.9 271.9 97.7Q275.3 95.4 268.8 82.9M258.8 137.8Q261.5 124.5 269.2 122.1Q269.4 107.8 273.2 103.6Q272.9 94 279.7 85.9Q283.8 71.9 284.1 67.6M258.3 138.1Q264.8 126.6 263.6 121.3Q270.6 107.3 270.6 105.1Q274.1 99.5 276.7 88.6Q278.3 76.5 275.2 71.1M235.5 161.5Q242.3 154.8 244.5 150.2Q246.4 152.2 257.4 143.7Q266.9 137.2 267.4 133.4Q265.5 129.2 271.5 119.6M286 146.5Q293.5 145.3 293.7 141.7Q293 141.1 301.6 137Q301.6 137.3 310.5 135.4Q318.4 137.9 319.1 132.5M231.3 151.7Q241.1 149.6 242 143.2Q245.7 142.5 249.6 131.9Q255.4 129 253.2 118.7Q254.9 107.6 260.3 107.1M274 161Q275.6 161.9 268.4 151.4Q269.1 152.6 260.6 143.5Q259.1 133.5 254.7 134.1Q256.5 130 247.3 125.8M231.9 166.3Q236.3 166.2 242.6 158.5Q251.2 152.9 251.3 148.4Q250.5 147.1 260.5 138.8Q263.6 129.5 269 128.7M253.2 138.5Q251 138.7 257.5 131.2Q263.7 127.9 261.1 123.4Q261.3 124.5 266.9 117.3Q271.4 115.6 272.3 110.7M225.3 146Q223.3 134.6 219.1 129Q220.6 118.9 220.8 111.1Q214.3 99 215 94Q210.6 88.7 217.6 76.1M281.2 143.5Q288.1 143.5 292.2 133.6Q293.7 128.8 300.5 121.5Q308.9 113.5 311.1 111.3Q316.4 109.4 317.4 98M245.5 187.5Q241.9 177.6 242.9 177.1Q245.3 168.7 245.1 166.6Q251.4 157.9 251.1 157.7Q250.2 151.1 254.8 147.7M285.4 180.6Q285.8 173.4 275.8 163.3Q268.2 153.7 264.8 146.9Q255.7 140.8 252.7 131.3Q246.9 122.8 235.9 120.9M223.9 155.2Q224.4 147.4 224.5 137.1Q226.5 128.8 224.2 119Q220.4 105.5 223 101Q227.5 97.3 222.8 82.9M241.9 166.6Q247.3 155.3 245.7 154Q246.6 144.8 252.7 142.8Q252.6 138.8 262.7 134.2Q270.5 132.9 274.8 129.2M264.5 161.4Q266.2 152.4 263.3 150.3Q262.5 150.7 259.7 139.7Q257.9 137.9 254.9 129.6Q252.1 123.3 252.3 118.7M271.9 174.6Q271.1 170.8 270.3 155.2Q266.9 140.7 266.3 136.2Q270 129.4 271.4 117.4Q276.3 107.1 274.4 98.3M272.5 168.2Q270.9 156.5 267.8 154.6Q266.9 147.5 261 142Q254.9 133.9 249.2 133.8Q241.6 125.7 237.4 125.6M282.4 144.7Q287.1 135.2 279.8 135.5Q271 137.3 274.2 127.7Q269.4 126.8 265.9 122.7Q257.9 118.3 257.9 117.4M252 182.8Q256 180.1 258.8 170.3Q259.5 169.2 264.4 157.2Q263.8 151 268.7 143.7Q262.9 138.3 267.9 129.4M255.2 150.8Q256.6 147.4 259.9 141.6Q264.7 137.3 266.6 133.7Q272.4 125.7 270.8 124.1Q271.1 117 270.3 113.8M239.3 174.2Q246.1 163.8 244.3 158.9Q243.2 149.7 243.6 142.9Q242.9 135.5 241.6 127Q245.6 122 238.7 111.2M228.3 189.3Q226.7 179.8 230.5 181.5Q232.8 182.2 235.1 174.7Q234.7 166.9 242.3 170.8Q244.1 170.4 250.4 170.3M287.9 170.6Q284.4 162.5 276.8 160.7Q271.7 150.3 267.1 149.4Q260.2 142.5 253.7 142.9Q250.7 136.9 240.3 136.4M262 140Q265.7 132.1 265 130.7Q266.6 128.8 266.2 120.9Q262.5 122.2 262.7 111.7Q261.3 103.1 259.7 102.3M227.8 170.5Q231.4 164.4 233.9 165.5Q240.7 163.1 241.1 162.1Q247.2 167.6 249 161.3Q252.2 160.8 256.7 159.5M269.8 181.1Q261.9 172.3 263.6 172.5Q256.7 168.9 257.4 163.9Q260.5 158.3 253 154.2Q254.9 149.7 246 146.3M274.3 162.1Q279.2 159.8 274 153Q274.9 146.8 275.3 144.1Q279.7 133.8 277.6 135.3Q278.9 126.7 280 126.6M271.8 148.9Q271.1 145.9 272 138.4Q275.9 133.7 273 127.8Q275.4 120.1 278 118.4Q286.7 114 284.6 110.2M272.2 143.6Q268.3 133.4 273.3 134.7Q277.6 128.8 270.7 126Q274.4 123.6 272.5 117.2Q278.3 108.4 277.8 110M237.8 177.8Q239.7 174.1 234.4 168Q228.8 157.9 230.8 158.2Q230.8 154.2 230.2 147.8Q231.8 143.4 230 137.4M265.9 157.6Q266.7 156.6 255.9 147.6Q252 144.8 243.5 140.7Q233.7 137.7 233.3 130.9Q230.9 125.5 225.8 119M263.3 158.6Q268.6 150.8 264.7 147.4Q265.8 141.2 268.1 136.6Q272.2 134.3 270.1 125.5Q272.1 125.6 268.7 114.3M252.5 159.6Q248.7 155.3 247 149.6Q242.5 138.8 241.2 139.7Q239.2 139.7 237.7 128.8Q242.8 128.8 238.3 117.4M275.8 150.4Q281.2 150.7 291.5 140.5Q302.2 138.3 305.2 128.2Q313.8 119.5 322.2 120.7Q331 121.8 339.8 115.2M241.7 171.7Q246.7 169.2 249.9 164.7Q252.2 165.8 256.4 156.3Q259.6 156 261 146.6Q262.2 143.4 268.4 138.9" fill="none" stroke="#2a94d4" stroke-width="2.1" opacity="0.8" stroke-linecap="round"/>
<path d="M265 167.8Q262.5 161.9 260.7 161.8Q259.2 163.1 255.1 157.2Q249.8 154.7 249.3 152.8M258.3 137.6Q255.2 128.6 259.7 129Q262.6 123.8 260.8 120.5Q260.8 117.9 258.6 112.1M249.3 164.9Q257.4 158.5 256.4 148.5Q264.7 138.3 268.3 135.1Q273.8 127.4 281.6 123M253.1 128Q250.9 126.3 251.6 120.3Q255.9 120.1 250.7 112.4Q252.9 112.8 248.3 104.9M281.5 140.7Q279.9 138.1 281.8 133.1Q286.2 125.5 285.5 126.5Q287.5 126.7 289.8 120.2M266.6 127.4Q264.4 127.2 263.8 118Q260.4 111.3 261.5 108.5Q256.9 102.1 255.3 100.9M261.8 153.5Q262.9 149.8 259.5 146.1Q259.5 138.6 255.9 139.3Q252.5 133.4 255.6 131.5M244.1 134.3Q248 127.7 246.7 127.8Q251.5 121.1 251.6 122.8Q254.7 119.3 258 119.8M274.2 145.3Q279.9 138.9 279.2 134.8Q275.9 128.3 280.6 123.2Q277.6 113.1 281.5 111.6M281.8 166.9Q278 161.6 272.3 156.7Q270.8 149.9 266.5 144.1Q257.9 136.3 258.5 132.6M240.6 158.1Q239.5 151 238 148Q232.3 138.4 236.5 137.6Q242.7 136.4 239.6 127.6M262.2 167Q264.2 160.7 267.5 152.2Q272.4 143.5 274.2 137.9Q273.4 130.3 278.6 122.8M256.4 146.3Q254.3 141.3 258.9 136.7Q258.9 134.2 256.7 127.1Q259 121.6 252 118.4M254.8 157.7Q259.6 155.2 263.3 148Q265.7 143.9 267.9 136Q274.1 135.7 277 126.8M265.8 144.5Q264.6 141.7 269.4 132.9Q266.5 128.2 272.8 121.2Q274.1 112 272.4 109.1M282.6 129.1Q282.3 119.9 286.6 116.9Q285.8 113.3 294.3 106.7Q294.7 105.5 300.2 95.3M256.2 142.8Q255.6 138.2 250 128.8Q244 123.7 246.6 113.9Q244.1 103.2 239.6 100.2M272.2 128.8Q264.7 120.7 265.8 115.3Q257.2 104.8 256.4 103.6Q255.8 98.6 248.1 91.1M246.5 124.1Q238.9 119 237.1 108.8Q233.2 98.1 235.9 91Q226.8 79.8 227 75.4M271.7 158.1Q276 158.4 270.9 150.5Q266.1 149.1 269.6 142.9Q271.8 141.8 267.3 135.6M260.1 168.8Q262.4 163.4 259 156.3Q253.5 154.8 252.6 145.4Q246.2 136.7 242.8 137.5M265.1 151Q263.1 142.3 256 140.2Q250 132.8 245.2 131Q239.6 127.7 236.8 119.7M262.6 136Q267.8 130.5 266.3 119.3Q269.3 112 276.6 105.5Q286.3 96.9 289.4 94.1M235.7 142.6Q238 139.7 238.3 136Q241.4 133.7 243.2 131Q243.4 125.6 249.1 127.1M259.2 138.3Q261.2 128.2 261.2 122.8Q257.4 116 259.4 107.3Q259.8 100.2 254.2 92.5M280.6 169.3Q281.4 159.9 279.7 157.9Q277 153.8 282.4 146.8Q288.6 144.4 286.3 136" fill="none" stroke="#5cbcec" stroke-width="1.2" opacity="0.75" stroke-linecap="round"/>
<path d="M297 130.3Q302.4 126 300.3 125.8Q307.6 123.3 305.3 123.3Q306.9 126.1 309.5 119.5M282.6 136.3Q279.8 135.7 280.3 131.5Q276 124.8 280.1 126.3Q283.7 127.9 278.4 121.2M297 119.1Q296 114.8 292.4 109.2Q288.3 99.6 291.2 98.3Q288.9 97.4 290.8 87.4M281.6 149.2Q278.8 147 281.6 143Q280.4 138.4 281.1 136.8Q283.9 132.5 282.8 130.8M299.2 151.8Q306.4 149 304.8 143.6Q308.3 135.7 312.6 137.4Q312.2 130.7 320.3 131.1M296.3 139.2Q301.2 129.6 302.2 129Q302.7 119.9 304.4 117.4Q307.9 107.9 308.9 106.5M309.2 124.9Q314.4 119 310.4 119.2Q312.3 118.1 313.3 114.2Q312.7 113.3 317.8 110.4M287.7 116.2Q288.4 106.4 282 102.2Q281.6 95.9 279.1 87.4Q277.2 77.5 274.3 73M287.6 118.8Q295.9 119.6 296.7 111.3Q306.9 110.5 307.8 107.3Q312.4 106.7 319.4 108.9M289.9 118Q290.6 112.9 291.7 113.2Q295.5 110.6 291.5 108Q289.1 108 289.7 103.1M304.9 130.8Q305 122.5 306.7 121.9Q304.1 117.3 306.5 112.8Q306.1 112.6 303.7 104.2M303.2 146.2Q300.9 142.1 296.6 134.9Q293.4 133.9 289.4 124Q283.9 118 284.5 111.9M290 147.1Q291.8 143.7 291.2 142.3Q291.1 135.9 291.6 137.3Q296.1 130.7 291.1 132.3M299.7 142.6Q304.5 140.9 299.5 131.7Q302.9 127.9 300 120.8Q303.6 111.3 297.3 110.3M286.8 125.4Q287.2 121.5 288 109.7Q287.8 105.8 285.8 94.1Q277.5 92 277.5 80.7M289.3 142.6Q293.6 141.4 289.8 134.2Q284.1 131.6 286.4 126.5Q288.5 125.4 281.4 119.8M289 119.5Q288.4 112.2 291.4 111.9Q295.8 112 296.6 105.8Q300.2 108.7 303.6 102M291.5 139.1Q292.9 139.2 288.8 134.6Q287.7 136.5 286.8 129.7Q282.7 128.5 286.9 124.4M310.5 121.7Q311.5 118.1 311.3 111.4Q310.8 107.7 316.4 102.3Q313.8 93.3 319.4 92.4M290.1 133.7Q293.6 135.4 294.3 128.1Q300.2 121.3 297.7 122Q297.8 122.3 300.5 115.6M299.2 142.6Q299.2 130.4 300.4 126.5Q297.9 120.4 300.8 110.4Q297.2 106.3 303.4 94.4M284 127.1Q285.7 120.5 282.9 121.5Q278.3 119.1 281.2 116.1Q279.2 112.8 281.7 110.5" fill="none" stroke="#a02848" stroke-width="1.4" opacity="0.6" stroke-linecap="round"/>
<g filter="url(#liquidU)">
<path d="M203 224L210 213L217 202L223 208L228 190L234 198L240 172L246 188L252 166L259 182L265 160L271 176L277 164L282 180L284 224Z" fill="#0a4aa8"/>
<path d="M279 224L273 200L277 170L280 150L290 132L304 124L325 130L345 134L362 139L377 148L389 158L394 166L386 171L370 178L345 184L330 196L322 212L326 224Z" fill="#9c0a1c"/>
<path d="M319 226L322 207L331 194L345 186L369 181L394 182L414 186L419 196L402 203L386 207L373 215L371 226Z" fill="#c08a10"/>
</g>
<g filter="url(#liquid)">
<path d="M203 222L214 206L224 187L231 166L236 146L230 126L234 109L243 99H309L311 118L297 132L286 146L282 166L284 222Z" fill="url(#gBlue)"/>
<path d="M282 100L306 99L312 116L304 128L296 150L286 170L278 150L280 124Z" fill="#6a2a5a" fill-opacity=".4"/>
<path d="M279 224L272 200L276 166L274 146L283 125L300 113L313 122L325 128L345 132L362 137L377 146L389 156L397 166L388 172L370 178L345 184L330 196L322 212L326 224Z" fill="url(#gRed)"/>
<path d="M290 200Q288 172 296 150Q302 138 310 146Q316 156 326 156Q334 158 336 168Q328 182 318 188Q306 196 300 206Q294 208 290 200Z" fill="#ff5462" fill-opacity=".6" filter="url(#blurM)"/>
<path d="M340 140L362 142L380 152L368 160L350 158Z" fill="#ff4452" fill-opacity=".6" filter="url(#blurM)"/>
<path d="M203 224L210 213L217 202L223 208L228 186L234 196L239 160L246 184L252 150L259 176L265 146L271 170L277 150L282 176L284 224Z" fill="url(#gBlueLow)"/>
<path d="M238 222L242 204L250 196L256 206L264 198L270 222Z" fill="#62c6ff" fill-opacity=".9" filter="url(#blurM)"/>
<path d="M244 168Q248 140 254 128Q258 144 256 170ZM262 160Q266 138 270 128Q272 146 270 164Z" fill="#7fd0f6" fill-opacity=".75" filter="url(#blurS)"/>
<path d="M319 226L322 207L331 194L345 186L369 181L394 182L414 186L419 196L402 203L386 207L373 215L371 226Z" fill="url(#gYellow)"/>
<path d="M320 226L323 208L332 195L342 190L338 206L341 226Z" fill="#ea8e18" fill-opacity=".9" filter="url(#blurM)"/>
<path d="M344 204Q352 192 370 190Q384 192 378 200Q364 210 344 204Z" fill="#fffa70" fill-opacity=".9" filter="url(#blurM)"/>
</g>
<path d="M369 226Q369.5 219 376 216Q386 212.6 398 213Q412 213.6 418 218.6Q421 222 421 226Z" fill="url(#gGreen)"/>
<path d="M378 217.6Q390 214.4 404 215.4Q412 216.6 413 218.6Q398 216.8 380 219.4Z" fill="#c4ff9a" opacity=".8" filter="url(#blurXS)"/>
<path d="M393.6 165.1Q395.2 165.4 400.3 163Q402 160.5 407.2 161.7M391.9 168.7Q398 167.5 403.2 169.2Q410.2 167.5 414.4 170.7M392.4 157.1Q396 155.8 398.7 160.1Q399.9 160.5 404 164.7M397.7 165.7Q399.1 165.5 402.8 165.2Q407.2 166.2 407.6 163M386.2 152.5Q388.6 152.5 392.7 157Q394.8 156.8 400.4 158.8M388.4 169Q390.2 174.2 395 173.5Q400.1 174.1 402.4 176.5M399.7 171.3Q402.9 172 405.5 172.9Q411.5 174.5 411.5 172.4M389.4 171.7Q394.3 173.8 393.7 172.3Q396.8 169.2 398 171.8M399.1 158Q403.5 159.2 407.6 155.4Q410.6 154.9 414.8 150.3M388.5 159Q387.6 162.3 392.8 160Q394.8 157.2 397.2 159.6M389.7 167.5Q392.5 165.8 394.4 168.5Q397 170.8 399 170.2M391.7 171.8Q398.6 175.1 400.6 177.9Q405.7 184.5 407.1 186.5M387.8 169.6Q391.7 167.5 393 164.6Q394.7 164.3 398.7 160.2M397 170.9Q399.8 168.8 406 172.5Q412.1 172.8 414.9 170.5M390.7 160.8Q394 159.3 394.8 158.2Q396.8 158.4 397.4 154.1M388.7 160.2Q395.9 162.2 397.2 159.4Q403.9 159 404.9 155.8M396.3 153.8Q402.5 154.8 404 157.3Q404.7 160.2 410.5 162.6M390.7 171Q391.9 172.7 398.5 172.2Q402.4 172.5 406.3 172.6" fill="none" stroke="#d83030" stroke-width="0.8" opacity="0.75" stroke-linecap="round"/>
<rect x="164.9" y="225.6" width="345.8" height="5.6" fill="#000" opacity=".55"/>
<rect x="208" y="226.4" width="72" height="2.2" fill="#1478d8" opacity=".8" filter="url(#blurS)"/><rect x="276" y="226.4" width="50" height="2.4" fill="#e81828" opacity=".9" filter="url(#blurS)"/><rect x="326" y="226.6" width="46" height="2" fill="#e8d820" opacity=".8" filter="url(#blurS)"/><rect x="372" y="226.6" width="48" height="1.8" fill="#48d020" opacity=".8" filter="url(#blurS)"/>
</g>
<rect x="164.15" y="98.75" width="347.3" height="134.3" rx="1.2" fill="none" stroke="#5a5a5c" stroke-width=".5"/>
<rect x="164.9" y="231.2" width="345.8" height="2" fill="#2c2c2e"/>
</g>

<!-- display controllers -->
<use href="#ctrl"/><use href="#ctrl" x="86.9"/><use href="#ctrl" x="174.05"/><use href="#ctrl" x="261.5"/>
<!-- video splicer -->
<g id="splicer">
<path d="M308.5 317H366.9L374.6 323.5H300.8Z" fill="#3b393e"/>
<rect x="297.4" y="323.3" width="79.3" height="23.5" rx=".8" fill="#0c0c10"/>
<rect x="297.4" y="323.3" width="3" height="23.5" fill="#1d1d22"/><rect x="373.7" y="323.3" width="3" height="23.5" fill="#1d1d22"/>
<rect x="300.4" y="323.3" width="73.3" height=".9" fill="#2a2a30"/>
<circle cx="298.9" cy="325.6" r=".7" fill="#888"/><circle cx="298.9" cy="344.6" r=".7" fill="#888"/><circle cx="375.2" cy="325.6" r=".7" fill="#888"/><circle cx="375.2" cy="344.6" r=".7" fill="#888"/>
</g>
<!-- video matrix -->
<g id="matrix">
<path d="M306.2 376.6H366.8L370 380.8H303Z" fill="#dedede"/>
<rect x="303" y="380.6" width="67" height="19.8" fill="url(#gSilver)"/>
<rect x="303" y="380.6" width="2.4" height="19.8" fill="#d9d9d9"/><rect x="367.6" y="380.6" width="2.4" height="19.8" fill="#d9d9d9"/>
<rect x="305.4" y="380.6" width=".5" height="19.8" fill="#999"/><rect x="367.1" y="380.6" width=".5" height="19.8" fill="#999"/>
<circle cx="304.2" cy="383.6" r=".7" fill="#666"/><circle cx="304.2" cy="397.6" r=".7" fill="#666"/><circle cx="368.8" cy="383.6" r=".7" fill="#666"/><circle cx="368.8" cy="397.6" r=".7" fill="#666"/>
<rect x="308.6" y="383.6" width="1.6" height="2.2" fill="#556"/>
<rect x="338" y="396.6" width="9" height=".8" fill="#778"/><rect x="350.5" y="395.4" width="11" height="2.2" fill="#9aa0b4"/>
<rect x="304.2" y="400.4" width="64.7" height="1.3" fill="#8c8c8c"/>
<rect x="304.2" y="401.5" width="64.7" height="24.9" fill="url(#pGrid)"/>
<rect x="332.7" y="402.4" width="24.7" height="23.2" fill="#c3c3c5"/><rect x="344.6" y="402.4" width=".6" height="23.2" fill="#a6a6a8"/>
<rect x="360.6" y="402.4" width="8.3" height="23.2" fill="#b4b4b6"/>
<rect x="362.6" y="404.6" width="1.7" height="7.6" fill="#e0862a"/>
<rect x="362.6" y="415" width="1.8" height="4.4" fill="#2a2a2a"/><rect x="364.8" y="421.4" width="2.8" height="2.6" fill="#1d1d1d"/>
<rect x="304.2" y="425.6" width="64.7" height=".9" fill="#8a8a8a"/>
</g>
<!-- network switch -->
<g id="switch">
<path d="M83.1 407.7H150L161.6 417H71.2Z" fill="#4a4d56"/>
<rect x="71.2" y="416.8" width="90.4" height="12.3" fill="#2d3440"/>
<rect x="71.2" y="416.8" width="90.4" height=".8" fill="#5a606c"/>
<g fill="#11151c"><rect x="73.2" y="418.6" width="17.4" height="4"/><rect x="73.2" y="423.6" width="17.4" height="4"/><rect x="92.8" y="418.6" width="17.2" height="4"/><rect x="92.8" y="423.6" width="17.2" height="4"/><rect x="111.4" y="419.4" width="11.6" height="2.6"/><rect x="111.4" y="424.4" width="11.6" height="2.6"/></g>
<rect x="73.2" y="422.6" width="17.4" height="1" fill="#c8ccd4"/><rect x="92.8" y="422.6" width="17.2" height="1" fill="#c8ccd4"/>
<path d="M73.2 418.6v9M75.4 418.6v9M77.6 418.6v9M79.8 418.6v9M82 418.6v9M84.2 418.6v9M86.4 418.6v9M88.6 418.6v9M90.6 418.6v9M92.8 418.6v9M95 418.6v9M97.2 418.6v9M99.4 418.6v9M101.6 418.6v9M103.8 418.6v9M106 418.6v9M108.2 418.6v9M110 418.6v9" stroke="#39414f" stroke-width=".5"/>
<rect x="124.6" y="423" width="2.8" height="3" fill="#8a909c"/><rect x="129.5" y="421.5" width="1" height="4.5" fill="#59606c"/><rect x="132" y="420" width=".8" height="6" fill="#4a515d"/>
<rect x="153" y="418.6" width="4.6" height="1.6" fill="#dfe6f2"/>
</g>
<!-- security camera ("Monitor") -->
<g id="seccam">
<ellipse cx="94.9" cy="492.9" rx="6.4" ry="8.3" fill="#a39f9a" transform="rotate(-12 94.9 492.9)"/>
<ellipse cx="94.1" cy="492.4" rx="5.4" ry="7.4" fill="url(#gBase)" transform="rotate(-12 94.1 492.4)"/>
<path d="M84 489.2L92.8 490.4L92.6 494.8L84.6 493.6Z" fill="#b9b5b0"/>
<circle cx="96.6" cy="490.4" r=".7" fill="#8a8680"/>
<path d="M81.4 485L84.6 484L85 489H81.8Z" fill="#77777a"/>
<rect x="80.8" y="488.2" width="4.4" height="5.6" rx="1.2" fill="#38383a"/>
<path d="M62.4 479.8L89.6 471.3Q92.4 470.9 92.5 474V481.6Q92.5 482.6 91.4 483L69.8 491Z" fill="url(#gCam)"/>
<path d="M82.4 473.6L83.8 485.8" stroke="#6a6a6a" stroke-width=".6"/>
<path d="M75 473.6l2.4-.8.4 1.4-2.4.8z" fill="#6e6e6e"/>
<ellipse cx="66.4" cy="485.6" rx="4.9" ry="6.6" fill="#8e8e8e" transform="rotate(-18 66.4 485.6)"/>
<ellipse cx="66.9" cy="486" rx="4" ry="5.7" fill="#1b1b1c" transform="rotate(-18 66.9 486)"/>
<ellipse cx="68" cy="486.6" rx="1.6" ry="2.4" fill="#3a3234" transform="rotate(-18 68 486.6)"/>
</g>
</g>
<!-- camcorder -->
<g id="camcorder">
<path d="M146.4 473.4L157.6 463.3Q160.4 462.1 162 464.5Q162.8 467.4 161 469.2L150.4 478Z" fill="#2c2c30"/>
<path d="M156.2 464.6L158.4 463.2Q160.6 462.6 161.8 464.6Q162.4 467 161 468.8L159.4 470.2Z" fill="#18181b"/>
<path d="M133 477.6L147.6 473L150.6 477.8L136.6 482.8Z" fill="#303035"/>
<path d="M117.3 476Q117.3 473.5 119.6 472.9L126.3 471.5Q128 471.3 128.6 473L129 475L136 476.5L137.4 482.6L131 484.6L119 484.1Q117.2 483.7 117.2 481.7Z" fill="#2e2e33"/>
<rect x="120.4" y="470.6" width="5.6" height="2.4" rx="1" fill="#26262a"/>
<path d="M147.6 476.4L152.8 475.2L154.6 481.6L149.4 482.4Z" fill="#222226"/>
<path d="M136.6 484.8L152 480.5Q158.7 480 158.7 485V494.6Q158.5 498.9 154 499.5L137.6 501.4Z" fill="#2b2b30"/>
<path d="M149 482.4L157 481.6V497L149 498.4Z" fill="#393940"/>
<path d="M126.2 487.1L139.8 485V500.7L126.2 503.1Z" fill="#33333a"/>
<path d="M130.3 486.5v15.9M134.6 485.8v15.5" stroke="#19191d" stroke-width="1.1"/>
<path d="M111.8 489.4Q111.8 487 114 486.6L124.6 485.6Q126.8 485.6 126.8 488V503Q126.8 505.2 124.6 505.2L114 504.6Q111.8 504.4 111.8 502.2Z" fill="#28282c"/>
<path d="M114.2 490.3L124.2 489.5V501.5L114.2 500.9Z" fill="#09090b"/>
</g>
<!-- media player -->
<g id="player">
<rect x="180.9" y="468.1" width="46" height="31.4" rx="3" fill="#070707"/>
<path d="M183.6 469.4H209.6L183 492.6V470Q183 469.4 183.6 469.4Z" fill="url(#gGloss)" opacity=".8"/>
<rect x="181.3" y="468.5" width="45.2" height="30.6" rx="2.7" fill="none" stroke="#4c4c4c" stroke-width=".8"/>
<circle cx="203.8" cy="481.5" r="8.6" fill="#1d1d1d" fill-opacity=".6" stroke="#5c5c5c" stroke-width=".9"/>
<path d="M201 476.4L209 481.5L201 486.6Z" fill="#6a6a6a"/>
<path d="M183.9 496.9H213.8" stroke="#d8142a" stroke-width="1.1"/><path d="M213.8 496.9H224" stroke="#5c5c5c" stroke-width="1.1"/>
<circle cx="200.6" cy="496.9" r="1" fill="#f4f4f4"/>
</g>
<!-- hard disk -->
<g id="hdd">
<path d="M270.8 472.2H290.2Q291.2 472.2 291.3 473.2L293.2 495.8V499.4Q293.2 500.5 292 500.5H268.2Q267 500.5 267 499.4V495.8L268.9 473.2Q269 472.2 270.8 472.2Z" fill="#3a3a3a"/>
<path d="M270.8 472.2H290.2Q291.2 472.2 291.3 473.2L293.1 495.6H267.1L268.9 473.2Q269 472.2 270.8 472.2Z" fill="url(#gHdd)" stroke="#8e8e8e" stroke-width=".5"/>
<rect x="271.4" y="497" width="16.8" height="2.4" fill="#d9a81e"/>
<g fill="#232323"><path d="M280.4 476.4L283.9 479.9L280.4 483.4L276.9 479.9Z"/><path d="M276 480.8L279.5 484.3L276 487.8L272.5 484.3Z"/><path d="M284.8 480.8L288.3 484.3L284.8 487.8L281.3 484.3Z"/><path d="M280.4 485.2L283.9 488.7L280.4 492.2L276.9 488.7Z"/></g>
<g fill="#555"><circle cx="270.6" cy="474.2" r=".7"/><circle cx="289.6" cy="474.2" r=".7"/><circle cx="268.8" cy="493.8" r=".7"/><circle cx="291.4" cy="493.8" r=".7"/></g>
</g>
<!-- laptop -->
<g id="laptop">
<rect x="315.6" y="468.3" width="40.6" height="27.8" rx="1.4" fill="#1a1a1a"/>
<rect x="316.8" y="469.5" width="38.2" height="25" fill="#0b0b0b"/>
<path d="M315.6 495.8H356.2L362.4 501H310.2Z" fill="#3a3a3c"/>
<path d="M317 496.6H354.8L358.4 499.8H313.6Z" fill="#232325"/>
<path d="M309.4 500.9H362.8V502.4Q362.8 503.9 360.6 503.9H311.6Q309.4 503.9 309.4 502.4Z" fill="#c3c3c6"/>
<rect x="331" y="500.9" width="10" height="1" fill="#9b9b9f"/>
</g>
<!-- disc player -->
<g id="discplayer">
<path d="M381.7 488.8H424L429.8 500.2H375.5Z" fill="url(#gTeal)"/>
<path d="M381.7 488.8H424L425 490.6L378 497.4L375.5 500.2Z" fill="#0b1114" opacity=".85"/>
<path d="M375.5 500.2H429.8V501.6Q429.8 502.9 428 502.9H377.3Q375.5 502.9 375.5 501.6Z" fill="#080b0d"/>
<circle cx="387.1" cy="484.6" r="10.9" fill="#8b8b8b"/>
<circle cx="387.1" cy="484.6" r="10.4" fill="none" stroke="#a4a4a4" stroke-width=".6"/>
<circle cx="387.1" cy="484.6" r="4.7" fill="#c2c2c2"/><circle cx="387.1" cy="484.6" r="2.9" fill="#dcdcdc"/><circle cx="387.1" cy="484.6" r="1.3" fill="#fff"/>
<rect x="384" y="491.4" width="6.2" height="1.2" fill="#e8e8e8" opacity=".8"/>
</g>
<!-- iMac + MacBook -->
<g id="computers">
<path d="M463.3 421.5H473.4L475 427.1H461.7Z" fill="#c6c6c9"/><rect x="460.7" y="426.9" width="15.4" height="1.3" rx=".6" fill="#b4b4b8"/>
<rect x="440.4" y="383.8" width="55.8" height="38" rx="1.4" fill="#cfcfd2"/>
<rect x="440.4" y="383.8" width="55.8" height="33.2" rx="1.2" fill="#0a0a0a"/>
<rect x="442.4" y="385.6" width="52.1" height="29.8" fill="url(#gScr)"/>
<ellipse cx="468.2" cy="400.2" rx="13" ry="3.6" fill="url(#gGal)" transform="rotate(-24 468.2 400.2)"/>
<path d="M442.4 385.6H470L452 415.4H442.4Z" fill="#000" opacity=".28"/>
<circle cx="468.3" cy="419.3" r=".9" fill="#222"/>
<rect x="475.2" y="402.1" width="37.3" height="25.2" rx="1.4" fill="#0a0a0a"/>
<rect x="476.7" y="403.7" width="34.5" height="22.1" fill="url(#gScr)"/>
<ellipse cx="494" cy="414.6" rx="9" ry="2.5" fill="url(#gGal)" transform="rotate(-24 494 414.6)"/>
<path d="M471.6 427.1H516.2V427.8Q516.2 428.7 514.8 428.7H473Q471.6 428.7 471.6 427.8Z" fill="#c4c4c8"/>
</g>
<!-- wireless router -->
<g id="router">
<path d="M565 379.1H566.7L570.8 413.4H567.5Z" fill="#141414"/><path d="M600.2 379.1H601.9L599.4 413.4H596.2Z" fill="#141414"/>
<path d="M569.4 409.6H596.6L604.7 417H561.2Z" fill="#242424"/>
<path d="M561.2 416.4H604.7V422.4Q604.7 425.1 602 425.1H564Q561.2 425.1 561.2 422.4Z" fill="#111"/>
<rect x="562.4" y="416.6" width="41.2" height=".7" fill="#3c3c3c"/>
<rect x="579.8" y="412" width="5" height="1.4" fill="#5a5a5a"/>
<circle cx="571" cy="421.4" r=".6" fill="#456"/><circle cx="583" cy="421.4" r=".6" fill="#58a"/><circle cx="595" cy="421.4" r=".6" fill="#456"/>
</g>
<!-- phones -->
<g id="phones">
<path d="M568.3 467.4Q568.3 465.4 570.2 464.6L581 460.4Q583 459.7 583 461.8V502.4Q583 504.2 581.2 504.2H570.1Q568.3 504.2 568.3 502.4Z" fill="#1b1b1e"/>
<path d="M569.6 470.4L581.8 466V498.8H569.6Z" fill="url(#gPh)"/>
<path d="M585 455.2Q585 452.8 587 453.6L601.4 458.4Q603.3 459.2 603.3 461.2V502.4Q603.3 504.2 601.5 504.2H586.8Q585 504.2 585 502.4Z" fill="#242427"/>
<path d="M586.3 460L602 465V498.8H586.3Z" fill="url(#gPh)"/>
<path d="M594 456L603.3 459.2V480L594 462Z" fill="#fff" opacity=".10"/>
<rect x="570.4" y="471.9" width="1.7" height="1.7" rx=".4" fill="#d8d8d8"/><rect x="573.4" y="470.9" width="1.7" height="1.7" rx=".4" fill="#e8e8ee"/><rect x="576.3" y="469.9" width="1.7" height="1.7" rx=".4" fill="#f08a2a"/><rect x="579.3" y="468.9" width="1.7" height="1.7" rx=".4" fill="#f2c230"/><rect x="570.4" y="476.9" width="1.7" height="1.7" rx=".4" fill="#3aa0e8"/><rect x="573.4" y="476.2" width="1.7" height="1.7" rx=".4" fill="#c8c8c8"/><rect x="576.3" y="475.4" width="1.7" height="1.7" rx=".4" fill="#3aa0e8"/><rect x="579.3" y="474.7" width="1.7" height="1.7" rx=".4" fill="#d8d8d8"/><rect x="570.4" y="481.9" width="1.7" height="1.7" rx=".4" fill="#e64a7a"/><rect x="573.4" y="481.4" width="1.7" height="1.7" rx=".4" fill="#f2c230"/><rect x="576.3" y="480.9" width="1.7" height="1.7" rx=".4" fill="#c8c8c8"/><rect x="579.3" y="480.4" width="1.7" height="1.7" rx=".4" fill="#5ac85a"/><rect x="570.4" y="487.0" width="1.7" height="1.7" rx=".4" fill="#f2c230"/><rect x="573.4" y="486.7" width="1.7" height="1.7" rx=".4" fill="#3aa0e8"/><rect x="576.3" y="486.5" width="1.7" height="1.7" rx=".4" fill="#f08a2a"/><rect x="579.3" y="486.2" width="1.7" height="1.7" rx=".4" fill="#f08a2a"/>
<rect x="587.5" y="463.5" width="2.0" height="2.0" rx=".4" fill="#3aa0e8"/><rect x="591.3" y="464.5" width="2.0" height="2.0" rx=".4" fill="#5ac85a"/><rect x="595.1" y="465.5" width="2.0" height="2.0" rx=".4" fill="#3aa0e8"/><rect x="598.9" y="466.5" width="2.0" height="2.0" rx=".4" fill="#c8c8c8"/><rect x="587.5" y="469.0" width="2.0" height="2.0" rx=".4" fill="#f08a2a"/><rect x="591.3" y="469.8" width="2.0" height="2.0" rx=".4" fill="#f2c230"/><rect x="595.1" y="470.6" width="2.0" height="2.0" rx=".4" fill="#e64a7a"/><rect x="598.9" y="471.4" width="2.0" height="2.0" rx=".4" fill="#3aa0e8"/><rect x="587.5" y="474.5" width="2.0" height="2.0" rx=".4" fill="#5ac85a"/><rect x="591.3" y="475.1" width="2.0" height="2.0" rx=".4" fill="#e64a7a"/><rect x="595.1" y="475.7" width="2.0" height="2.0" rx=".4" fill="#f2c230"/><rect x="598.9" y="476.3" width="2.0" height="2.0" rx=".4" fill="#e64a7a"/><rect x="587.5" y="480.0" width="2.0" height="2.0" rx=".4" fill="#e64a7a"/><rect x="591.3" y="480.4" width="2.0" height="2.0" rx=".4" fill="#f08a2a"/><rect x="595.1" y="480.8" width="2.0" height="2.0" rx=".4" fill="#f2c230"/><rect x="598.9" y="481.2" width="2.0" height="2.0" rx=".4" fill="#5ac85a"/><rect x="587.5" y="485.5" width="2.0" height="2.0" rx=".4" fill="#f2c230"/><rect x="591.3" y="485.7" width="2.0" height="2.0" rx=".4" fill="#c8c8c8"/><rect x="595.1" y="485.9" width="2.0" height="2.0" rx=".4" fill="#e8e8ee"/><rect x="598.9" y="486.1" width="2.0" height="2.0" rx=".4" fill="#e8523a"/>
<rect x="570.4" y="495.2" width="1.7" height="1.7" rx=".4" fill="#5ac85a"/>
<rect x="587.5" y="494.6" width="2" height="2" rx=".4" fill="#5ac85a"/>
<rect x="573.4" y="495.2" width="1.7" height="1.7" rx=".4" fill="#3aa0e8"/>
<rect x="591.3" y="494.6" width="2" height="2" rx=".4" fill="#3aa0e8"/>
<rect x="576.3" y="495.2" width="1.7" height="1.7" rx=".4" fill="#e8e8ee"/>
<rect x="595.1" y="494.6" width="2" height="2" rx=".4" fill="#e8e8ee"/>
<rect x="579.2" y="495.2" width="1.7" height="1.7" rx=".4" fill="#e8523a"/>
<rect x="598.9" y="494.6" width="2" height="2" rx=".4" fill="#e8523a"/>
<circle cx="575.6" cy="501.6" r="1" fill="none" stroke="#444" stroke-width=".4"/><circle cx="594.2" cy="501.6" r="1.2" fill="none" stroke="#4a4a4a" stroke-width=".4"/>
</g>

<g id="hangul-title" class="hgt" fill="#0a6cc4" stroke="#0a6cc4"><text x="787.2 809.4 833.6 857 865.6 889.6 911" y="57.8">시스템 구성도</text></g>
<g id="hangul-a1" class="hgt" fill="#000" stroke="#000"><text x="643.4 666.4 689.4" y="159">출력부</text><text x="928 950.8" y="159">설치</text></g>
<g id="hangul-a2" class="hgt" fill="#000" stroke="#000"><text x="684 708.4" y="389.8">배선</text></g>
<g id="hangul-a3" class="hgt" fill="#000" stroke="#000"><text x="693.8 716.6 740" y="457">입력부</text><text x="934.4" y="457">등</text></g>
</svg>
<div class="t big" id="t1" style="left:608.49px;top:37.45px;color:#0a6cc4;letter-spacing:0.15px;">LED</div>
<div class="t big" id="t2" style="left:669.54px;top:37.45px;color:#0a6cc4;letter-spacing:0.37px;transform:scaleX(1.100)">Display</div>
<div class="t big" id="a1c" style="left:711.58px;top:139.45px;transform:scaleX(0.900)">:</div>
<div class="t big" id="a1a" style="left:726.45px;top:139.45px;letter-spacing:0.12px;">LED</div>
<div class="t big" id="a1b" style="left:788.04px;top:139.45px;letter-spacing:0.62px;transform:scaleX(1.100)">Display</div>
<div class="t big" id="a1p" style="left:904.89px;top:139.45px;transform:scaleX(0.900)">+</div>
<div class="t big" id="a2a" style="left:682.54px;top:283.35px;letter-spacing:0.16px;transform:scaleX(1.100)">Processing</div>
<div class="t big" id="a2ac" style="left:841.61px;top:283.35px;transform:scaleX(1.114)">:</div>
<div class="t big" id="a2b" style="left:682.76px;top:312.35px;letter-spacing:0.82px;transform:scaleX(1.100)">Controller</div>
<div class="t big" id="a2bc" style="left:830.74px;top:312.35px;transform:scaleX(1.040)">,</div>
<div class="t big" id="a2c" style="left:682.54px;top:341.3px;letter-spacing:-0.12px;transform:scaleX(1.100)">Processor</div>
<div class="t big" id="a2cp" style="left:834.89px;top:341.3px;transform:scaleX(0.900)">+</div>
<div class="t big" id="a3c" style="left:761.78px;top:436.85px;transform:scaleX(1.103)">:</div>
<div class="t big" id="a3a" style="left:777.54px;top:436.85px;letter-spacing:1.03px;transform:scaleX(1.100)">Matrix</div>
<div class="t big" id="a3ac" style="left:871.68px;top:436.85px;transform:scaleX(1.114)">,</div>
<div class="t big" id="a3b" style="left:885.57px;top:436.85px;letter-spacing:-0.62px;transform:scaleX(1.080)">PC</div>
<div class="t" id="brand" style="left:144px;top:51.9px;font:italic bold 13px 'Liberation Sans',sans-serif;letter-spacing:0.4px;color:#0c0c0c;-webkit-text-stroke:0.45px #0c0c0c;transform:scaleX(1.18)">Visual LED Works<span style="font-size:9px;letter-spacing:0.3px;position:relative;top:-4.8px">TM</span></div>
<div class="t" id="swlbl" style="left:43.7px;top:431px;font-size:8px;letter-spacing:0.585px;color:#111;-webkit-text-stroke:0.2px #111;will-change:transform">Switch system for video conference</div>
<div class="t lbl" style="left:104.3px;top:226.9px">LED display</div>
<div class="t lbl" style="left:78.1px;top:273.4px">Display Controller</div>
<div class="t lbl" style="left:233.3px;top:340.0px">Video splicer</div>
<div class="t lbl" style="left:247.2px;top:420.2px">Video Matrix</div>
<div class="t lbl" style="left:402.0px;top:420.6px">Computer</div>
<div class="t lbl" style="left:554.4px;top:425.1px">Wireless Router</div>
<div class="t lbl" style="left:66.3px;top:512.7px">Monitor</div>
<div class="t lbl" style="left:121.8px;top:512.7px">camera</div>
<div class="t lbl" style="left:191.8px;top:512.7px">Player</div>
<div class="t lbl" style="left:309.8px;top:512.7px">Signal source</div>
<div class="t lbl" style="left:556.3px;top:513.0px">Mobile devices</div>
<div class="t hk" style="left:786px;top:37px">시스템 구성도</div>
<div class="t hk" style="left:643px;top:139px">출력부</div>
<div class="t hk" style="left:927px;top:139px">설치</div>
<div class="t hk" style="left:683px;top:370px">배선</div>
<div class="t hk" style="left:693px;top:437px">입력부</div>
<div class="t hk" style="left:934px;top:437px">등</div>

</div>
</body></html>
